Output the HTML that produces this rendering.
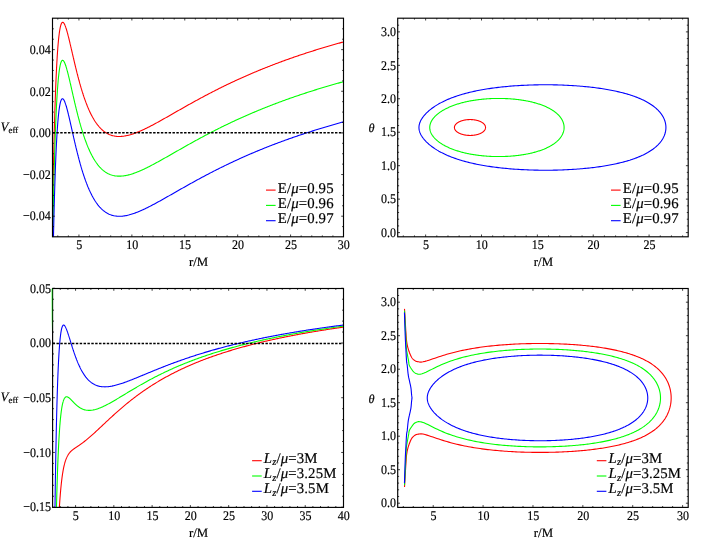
<!DOCTYPE html>
<html><head><meta charset="utf-8"><title>plots</title><style>html,body{margin:0;padding:0;background:#fff}svg{display:block;will-change:transform}text{text-rendering:geometricPrecision;stroke:#000;stroke-width:0.18px}</style></head><body>
<svg width="705" height="541" viewBox="0 0 705 541" font-family='"Liberation Serif", serif' fill="#000">
<rect width="705" height="541" fill="#fff"/>
<defs>
<clipPath id="c1"><rect x="52.50" y="18.20" width="291.00" height="218.60"/></clipPath>
<clipPath id="c3"><rect x="52.60" y="288.50" width="290.90" height="218.90"/></clipPath>
<clipPath id="c2"><rect x="397.70" y="18.20" width="290.50" height="218.60"/></clipPath>
<clipPath id="c4"><rect x="397.70" y="288.50" width="290.50" height="218.90"/></clipPath>
</defs>
<path d="M52.50 218.35 L52.59 212.74 L52.69 207.26 L52.78 201.92 L52.87 196.71 L52.96 191.63 L53.06 186.67 L53.15 181.83 L53.24 177.12 L53.34 172.51 L53.43 168.02 L53.52 163.64 L53.61 159.37 L53.71 155.21 L53.80 151.15 L53.89 147.19 L53.99 143.33 L54.08 139.56 L54.17 135.89 L54.26 132.31 L54.36 128.83 L54.45 125.43 L54.54 122.11 L54.63 118.89 L54.73 115.74 L54.82 112.68 L54.91 109.69 L55.01 106.78 L55.10 103.95 L55.19 101.19 L55.28 98.50 L55.38 95.89 L55.47 93.34 L55.56 90.86 L55.66 88.45 L55.75 86.10 L55.84 83.82 L55.93 81.59 L56.03 79.43 L56.12 77.33 L56.21 75.28 L56.31 73.29 L56.40 71.36 L56.49 69.48 L56.58 67.65 L56.68 65.88 L56.77 64.15 L56.86 62.48 L56.96 60.85 L57.05 59.28 L57.14 57.75 L57.23 56.26 L57.33 54.82 L57.42 53.42 L57.51 52.06 L57.61 50.75 L57.70 49.48 L57.79 48.24 L57.88 47.05 L57.98 45.89 L58.07 44.77 L58.16 43.69 L58.26 42.64 L58.35 41.63 L58.44 40.65 L58.53 39.71 L58.63 38.80 L58.72 37.92 L58.81 37.07 L58.90 36.25 L59.00 35.46 L59.09 34.70 L59.18 33.97 L59.28 33.27 L59.37 32.60 L59.46 31.95 L59.55 31.33 L59.65 30.73 L59.74 30.16 L59.83 29.61 L59.93 29.09 L60.02 28.59 L60.11 28.12 L60.20 27.66 L60.30 27.23 L60.39 26.82 L60.48 26.43 L60.58 26.06 L60.67 25.72 L60.76 25.39 L60.85 25.08 L60.95 24.79 L61.04 24.51 L61.13 24.26 L61.23 24.02 L61.32 23.80 L61.41 23.60 L61.50 23.41 L61.60 23.24 L61.69 23.08 L61.78 22.94 L61.88 22.82 L61.97 22.71 L62.06 22.61 L62.15 22.53 L62.25 22.46 L62.34 22.41 L62.43 22.36 L62.52 22.34 L62.62 22.32 L62.71 22.31 L62.80 22.32 L62.90 22.34 L62.99 22.37 L63.08 22.41 L63.17 22.46 L63.27 22.52 L63.36 22.60 L63.45 22.68 L63.55 22.77 L63.64 22.87 L63.73 22.98 L63.82 23.10 L63.92 23.23 L64.01 23.37 L64.10 23.52 L64.20 23.67 L64.29 23.83 L64.38 24.00 L64.47 24.18 L64.57 24.37 L64.66 24.56 L64.75 24.76 L64.85 24.97 L64.94 25.18 L65.03 25.40 L65.12 25.63 L65.22 25.86 L65.31 26.10 L65.40 26.34 L65.50 26.59 L65.59 26.85 L65.68 27.11 L65.77 27.38 L65.87 27.65 L65.96 27.93 L66.05 28.21 L66.14 28.49 L66.24 28.79 L66.33 29.08 L66.42 29.38 L66.52 29.69 L66.61 29.99 L66.70 30.31 L66.79 30.62 L66.89 30.94 L66.98 31.27 L67.07 31.59 L67.17 31.92 L67.26 32.26 L67.35 32.60 L67.44 32.94 L67.54 33.28 L67.63 33.63 L67.72 33.97 L67.82 34.33 L67.91 34.68 L68.00 35.04 L68.09 35.40 L68.19 35.76 L68.28 36.12 L68.37 36.49 L68.47 36.86 L68.56 37.23 L68.65 37.60 L68.74 37.97 L68.84 38.35 L68.93 38.73 L69.02 39.11 L69.12 39.49 L69.21 39.87 L69.30 40.26 L69.39 40.64 L69.49 41.03 L69.58 41.42 L69.67 41.81 L69.77 42.20 L69.86 42.59 L69.95 42.98 L70.04 43.38 L70.14 43.77 L70.23 44.17 L70.32 44.56 L70.41 44.96 L70.51 45.36 L70.60 45.75 L70.69 46.15 L70.79 46.55 L70.88 46.95 L70.97 47.35 L71.06 47.75 L71.16 48.16 L71.25 48.56 L71.34 48.96 L71.44 49.36 L71.53 49.76 L71.62 50.17 L71.71 50.57 L71.81 50.97 L71.90 51.38 L71.99 51.78 L72.09 52.18 L72.18 52.58 L72.27 52.99 L72.36 53.39 L72.46 53.79 L72.55 54.20 L72.64 54.60 L72.74 55.00 L72.83 55.40 L72.92 55.80 L73.01 56.20 L73.11 56.60 L73.20 57.00 L73.29 57.40 L73.39 57.80 L73.48 58.20 L73.57 58.60 L73.66 59.00 L73.76 59.40 L73.85 59.79 L73.94 60.19 L74.03 60.59 L74.13 60.98 L74.22 61.37 L74.31 61.77 L74.41 62.16 L74.50 62.55 L74.59 62.95 L74.68 63.34 L74.78 63.73 L74.87 64.12 L74.96 64.50 L75.06 64.89 L75.15 65.28 L75.24 65.67 L75.33 66.05 L75.43 66.44 L75.52 66.82 L75.61 67.20 L75.71 67.58 L75.80 67.96 L75.89 68.34 L75.98 68.72 L76.08 69.10 L76.17 69.48 L76.26 69.85 L76.36 70.23 L76.45 70.60 L76.54 70.97 L76.63 71.35 L76.73 71.72 L76.82 72.09 L76.91 72.46 L77.01 72.82 L77.10 73.19 L77.19 73.56 L77.28 73.92 L77.38 74.28 L77.47 74.64 L77.56 75.01 L77.66 75.37 L77.75 75.72 L77.84 76.08 L77.93 76.44 L78.03 76.79 L78.12 77.15 L78.21 77.50 L78.30 77.85 L78.40 78.20 L78.49 78.55 L78.58 78.90 L78.68 79.25 L78.77 79.59 L78.86 79.94 L78.95 80.28 L79.05 80.62 L79.14 80.96 L79.23 81.30 L79.33 81.64 L79.42 81.98 L79.51 82.31 L79.60 82.65 L79.70 82.98 L79.79 83.31 L79.88 83.64 L79.98 83.97 L80.07 84.30 L80.16 84.63 L80.25 84.95 L80.35 85.28 L80.44 85.60 L80.53 85.92 L80.63 86.24 L80.72 86.56 L80.81 86.88 L80.90 87.20 L81.00 87.51 L81.09 87.83 L81.18 88.14 L81.28 88.45 L81.37 88.76 L81.46 89.07 L81.55 89.38 L81.65 89.69 L81.74 89.99 L81.83 90.29 L81.92 90.60 L82.02 90.90 L82.11 91.20 L82.20 91.50 L82.30 91.80 L82.39 92.09 L82.48 92.39 L82.57 92.68 L82.67 92.97 L82.76 93.26 L82.85 93.55 L82.95 93.84 L83.04 94.13 L83.13 94.42 L83.22 94.70 L83.32 94.98 L83.41 95.27 L83.50 95.55 L83.60 95.83 L83.69 96.10 L83.78 96.38 L83.87 96.66 L83.97 96.93 L84.06 97.20 L84.15 97.48 L84.25 97.75 L84.34 98.02 L84.43 98.28 L84.52 98.55 L84.62 98.82 L84.71 99.08 L84.80 99.34 L84.90 99.61 L84.99 99.87 L85.08 100.13 L85.17 100.38 L85.27 100.64 L85.36 100.90 L85.45 101.15 L85.54 101.40 L85.64 101.66 L85.73 101.91 L85.82 102.16 L85.92 102.40 L86.01 102.65 L86.10 102.90 L86.19 103.14 L86.29 103.39 L86.38 103.63 L86.47 103.87 L86.57 104.11 L86.66 104.35 L86.75 104.58 L86.84 104.82 L86.94 105.05 L87.03 105.29 L87.12 105.52 L87.22 105.75 L87.31 105.98 L87.40 106.21 L87.49 106.44 L87.59 106.67 L87.68 106.89 L87.77 107.12 L87.87 107.34 L87.96 107.56 L88.05 107.78 L88.14 108.00 L88.24 108.22 L88.33 108.44 L88.42 108.65 L88.52 108.87 L88.61 109.08 L88.70 109.29 L88.79 109.51 L88.89 109.72 L88.98 109.93 L89.07 110.13 L89.17 110.34 L89.26 110.55 L89.35 110.75 L89.44 110.96 L89.54 111.16 L90.39 112.96 L91.24 114.68 L92.08 116.30 L92.93 117.84 L93.78 119.30 L94.63 120.68 L95.48 121.99 L96.33 123.22 L97.18 124.38 L98.03 125.47 L98.88 126.49 L99.73 127.45 L100.58 128.35 L101.43 129.19 L102.28 129.97 L103.13 130.70 L103.98 131.37 L104.83 132.00 L105.67 132.57 L106.52 133.10 L107.37 133.58 L108.22 134.02 L109.07 134.42 L109.92 134.77 L110.77 135.09 L111.62 135.37 L112.47 135.62 L113.32 135.83 L114.17 136.01 L115.02 136.16 L115.87 136.28 L116.72 136.37 L117.57 136.43 L118.42 136.46 L119.26 136.47 L120.11 136.46 L120.96 136.42 L121.81 136.36 L122.66 136.28 L123.51 136.18 L124.36 136.06 L125.21 135.91 L126.06 135.76 L126.91 135.58 L127.76 135.39 L128.61 135.18 L129.46 134.96 L130.31 134.72 L131.16 134.47 L132.01 134.20 L132.85 133.92 L133.70 133.64 L134.55 133.33 L135.40 133.02 L136.25 132.70 L137.10 132.37 L137.95 132.03 L138.80 131.68 L139.65 131.32 L140.50 130.95 L141.35 130.57 L142.20 130.19 L143.05 129.80 L143.90 129.40 L144.75 129.00 L145.60 128.59 L146.44 128.18 L147.29 127.76 L148.14 127.33 L148.99 126.90 L149.84 126.47 L150.69 126.03 L151.54 125.59 L152.39 125.14 L153.24 124.69 L154.09 124.24 L154.94 123.78 L155.79 123.32 L156.64 122.86 L157.49 122.39 L158.34 121.92 L159.19 121.45 L160.03 120.98 L160.88 120.51 L161.73 120.03 L162.58 119.56 L163.43 119.08 L164.28 118.60 L165.13 118.12 L165.98 117.64 L166.83 117.16 L167.68 116.67 L168.53 116.19 L169.38 115.70 L170.23 115.22 L171.08 114.73 L171.93 114.25 L172.78 113.76 L173.62 113.28 L174.47 112.79 L175.32 112.31 L176.17 111.82 L177.02 111.34 L177.87 110.85 L178.72 110.37 L179.57 109.88 L180.42 109.40 L181.27 108.92 L182.12 108.43 L182.97 107.95 L183.82 107.47 L184.67 106.99 L185.52 106.51 L186.37 106.03 L187.21 105.56 L188.06 105.08 L188.91 104.60 L189.76 104.13 L190.61 103.65 L191.46 103.18 L192.31 102.71 L193.16 102.24 L194.01 101.77 L194.86 101.30 L195.71 100.84 L196.56 100.37 L197.41 99.91 L198.26 99.45 L199.11 98.99 L199.96 98.53 L200.80 98.07 L201.65 97.61 L202.50 97.16 L203.35 96.70 L204.20 96.25 L205.05 95.80 L205.90 95.35 L206.75 94.90 L207.60 94.45 L208.45 94.01 L209.30 93.56 L210.15 93.12 L211.00 92.68 L211.85 92.24 L212.70 91.81 L213.55 91.37 L214.39 90.94 L215.24 90.50 L216.09 90.07 L216.94 89.64 L217.79 89.22 L218.64 88.79 L219.49 88.36 L220.34 87.94 L221.19 87.52 L222.04 87.10 L222.89 86.68 L223.74 86.27 L224.59 85.85 L225.44 85.44 L226.29 85.03 L227.14 84.62 L227.98 84.21 L228.83 83.80 L229.68 83.40 L230.53 82.99 L231.38 82.59 L232.23 82.19 L233.08 81.79 L233.93 81.40 L234.78 81.00 L235.63 80.61 L236.48 80.22 L237.33 79.83 L238.18 79.44 L239.03 79.05 L239.88 78.67 L240.73 78.28 L241.57 77.90 L242.42 77.52 L243.27 77.14 L244.12 76.76 L244.97 76.39 L245.82 76.01 L246.67 75.64 L247.52 75.27 L248.37 74.90 L249.22 74.53 L250.07 74.16 L250.92 73.80 L251.77 73.43 L252.62 73.07 L253.47 72.71 L254.32 72.35 L255.16 72.00 L256.01 71.64 L256.86 71.28 L257.71 70.93 L258.56 70.58 L259.41 70.23 L260.26 69.88 L261.11 69.54 L261.96 69.19 L262.81 68.85 L263.66 68.50 L264.51 68.16 L265.36 67.82 L266.21 67.48 L267.06 67.15 L267.91 66.81 L268.75 66.48 L269.60 66.15 L270.45 65.81 L271.30 65.48 L272.15 65.16 L273.00 64.83 L273.85 64.50 L274.70 64.18 L275.55 63.86 L276.40 63.54 L277.25 63.22 L278.10 62.90 L278.95 62.58 L279.80 62.26 L280.65 61.95 L281.50 61.63 L282.34 61.32 L283.19 61.01 L284.04 60.70 L284.89 60.39 L285.74 60.09 L286.59 59.78 L287.44 59.48 L288.29 59.17 L289.14 58.87 L289.99 58.57 L290.84 58.27 L291.69 57.98 L292.54 57.68 L293.39 57.38 L294.24 57.09 L295.09 56.80 L295.93 56.50 L296.78 56.21 L297.63 55.92 L298.48 55.64 L299.33 55.35 L300.18 55.06 L301.03 54.78 L301.88 54.50 L302.73 54.21 L303.58 53.93 L304.43 53.65 L305.28 53.37 L306.13 53.10 L306.98 52.82 L307.83 52.54 L308.68 52.27 L309.52 52.00 L310.37 51.72 L311.22 51.45 L312.07 51.18 L312.92 50.91 L313.77 50.65 L314.62 50.38 L315.47 50.12 L316.32 49.85 L317.17 49.59 L318.02 49.33 L318.87 49.06 L319.72 48.80 L320.57 48.55 L321.42 48.29 L322.27 48.03 L323.11 47.77 L323.96 47.52 L324.81 47.27 L325.66 47.01 L326.51 46.76 L327.36 46.51 L328.21 46.26 L329.06 46.01 L329.91 45.76 L330.76 45.52 L331.61 45.27 L332.46 45.03 L333.31 44.78 L334.16 44.54 L335.01 44.30 L335.86 44.06 L336.70 43.82 L337.55 43.58 L338.40 43.34 L339.25 43.10 L340.10 42.86 L340.95 42.63 L341.80 42.40 L342.65 42.16 L343.50 41.93" fill="none" stroke="#ff0000" stroke-width="1.10" stroke-linejoin="round" stroke-linecap="butt" clip-path="url(#c1)" />
<path d="M52.50 253.21 L52.59 247.65 L52.69 242.23 L52.78 236.95 L52.87 231.79 L52.96 226.75 L53.06 221.85 L53.15 217.06 L53.24 212.39 L53.34 207.83 L53.43 203.39 L53.52 199.06 L53.61 194.83 L53.71 190.71 L53.80 186.70 L53.89 182.78 L53.99 178.96 L54.08 175.24 L54.17 171.61 L54.26 168.08 L54.36 164.63 L54.45 161.27 L54.54 158.00 L54.63 154.81 L54.73 151.71 L54.82 148.68 L54.91 145.73 L55.01 142.86 L55.10 140.07 L55.19 137.34 L55.28 134.69 L55.38 132.11 L55.47 129.60 L55.56 127.16 L55.66 124.78 L55.75 122.46 L55.84 120.21 L55.93 118.02 L56.03 115.89 L56.12 113.82 L56.21 111.81 L56.31 109.85 L56.40 107.95 L56.49 106.10 L56.58 104.30 L56.68 102.56 L56.77 100.86 L56.86 99.22 L56.96 97.62 L57.05 96.07 L57.14 94.57 L57.23 93.11 L57.33 91.69 L57.42 90.32 L57.51 88.99 L57.61 87.71 L57.70 86.46 L57.79 85.25 L57.88 84.08 L57.98 82.95 L58.07 81.86 L58.16 80.80 L58.26 79.78 L58.35 78.79 L58.44 77.83 L58.53 76.91 L58.63 76.02 L58.72 75.17 L58.81 74.34 L58.90 73.55 L59.00 72.78 L59.09 72.04 L59.18 71.33 L59.28 70.65 L59.37 70.00 L59.46 69.37 L59.55 68.77 L59.65 68.20 L59.74 67.64 L59.83 67.12 L59.93 66.62 L60.02 66.14 L60.11 65.68 L60.20 65.24 L60.30 64.83 L60.39 64.44 L60.48 64.07 L60.58 63.72 L60.67 63.39 L60.76 63.08 L60.85 62.79 L60.95 62.51 L61.04 62.26 L61.13 62.02 L61.23 61.80 L61.32 61.59 L61.41 61.41 L61.50 61.24 L61.60 61.08 L61.69 60.94 L61.78 60.82 L61.88 60.71 L61.97 60.61 L62.06 60.53 L62.15 60.47 L62.25 60.41 L62.34 60.37 L62.43 60.35 L62.52 60.33 L62.62 60.33 L62.71 60.34 L62.80 60.36 L62.90 60.39 L62.99 60.43 L63.08 60.49 L63.17 60.55 L63.27 60.63 L63.36 60.71 L63.45 60.81 L63.55 60.91 L63.64 61.03 L63.73 61.15 L63.82 61.29 L63.92 61.43 L64.01 61.58 L64.10 61.74 L64.20 61.90 L64.29 62.08 L64.38 62.26 L64.47 62.45 L64.57 62.65 L64.66 62.85 L64.75 63.06 L64.85 63.28 L64.94 63.50 L65.03 63.74 L65.12 63.97 L65.22 64.22 L65.31 64.47 L65.40 64.72 L65.50 64.98 L65.59 65.25 L65.68 65.52 L65.77 65.80 L65.87 66.08 L65.96 66.37 L66.05 66.66 L66.14 66.95 L66.24 67.25 L66.33 67.56 L66.42 67.87 L66.52 68.18 L66.61 68.50 L66.70 68.82 L66.79 69.15 L66.89 69.48 L66.98 69.81 L67.07 70.15 L67.17 70.49 L67.26 70.83 L67.35 71.17 L67.44 71.52 L67.54 71.87 L67.63 72.23 L67.72 72.59 L67.82 72.95 L67.91 73.31 L68.00 73.67 L68.09 74.04 L68.19 74.41 L68.28 74.78 L68.37 75.16 L68.47 75.53 L68.56 75.91 L68.65 76.29 L68.74 76.67 L68.84 77.06 L68.93 77.44 L69.02 77.83 L69.12 78.22 L69.21 78.61 L69.30 79.00 L69.39 79.39 L69.49 79.79 L69.58 80.18 L69.67 80.58 L69.77 80.98 L69.86 81.37 L69.95 81.77 L70.04 82.17 L70.14 82.57 L70.23 82.98 L70.32 83.38 L70.41 83.78 L70.51 84.19 L70.60 84.59 L70.69 85.00 L70.79 85.40 L70.88 85.81 L70.97 86.22 L71.06 86.62 L71.16 87.03 L71.25 87.44 L71.34 87.85 L71.44 88.25 L71.53 88.66 L71.62 89.07 L71.71 89.48 L71.81 89.89 L71.90 90.30 L71.99 90.70 L72.09 91.11 L72.18 91.52 L72.27 91.93 L72.36 92.34 L72.46 92.75 L72.55 93.15 L72.64 93.56 L72.74 93.97 L72.83 94.37 L72.92 94.78 L73.01 95.19 L73.11 95.59 L73.20 96.00 L73.29 96.40 L73.39 96.81 L73.48 97.21 L73.57 97.61 L73.66 98.02 L73.76 98.42 L73.85 98.82 L73.94 99.22 L74.03 99.62 L74.13 100.02 L74.22 100.42 L74.31 100.82 L74.41 101.22 L74.50 101.61 L74.59 102.01 L74.68 102.41 L74.78 102.80 L74.87 103.19 L74.96 103.59 L75.06 103.98 L75.15 104.37 L75.24 104.76 L75.33 105.15 L75.43 105.54 L75.52 105.93 L75.61 106.31 L75.71 106.70 L75.80 107.08 L75.89 107.47 L75.98 107.85 L76.08 108.23 L76.17 108.61 L76.26 108.99 L76.36 109.37 L76.45 109.75 L76.54 110.12 L76.63 110.50 L76.73 110.87 L76.82 111.25 L76.91 111.62 L77.01 111.99 L77.10 112.36 L77.19 112.73 L77.28 113.10 L77.38 113.46 L77.47 113.83 L77.56 114.19 L77.66 114.56 L77.75 114.92 L77.84 115.28 L77.93 115.64 L78.03 116.00 L78.12 116.36 L78.21 116.71 L78.30 117.07 L78.40 117.42 L78.49 117.77 L78.58 118.12 L78.68 118.47 L78.77 118.82 L78.86 119.17 L78.95 119.52 L79.05 119.86 L79.14 120.21 L79.23 120.55 L79.33 120.89 L79.42 121.23 L79.51 121.57 L79.60 121.91 L79.70 122.24 L79.79 122.58 L79.88 122.91 L79.98 123.24 L80.07 123.57 L80.16 123.90 L80.25 124.23 L80.35 124.56 L80.44 124.89 L80.53 125.21 L80.63 125.53 L80.72 125.86 L80.81 126.18 L80.90 126.50 L81.00 126.81 L81.09 127.13 L81.18 127.45 L81.28 127.76 L81.37 128.07 L81.46 128.38 L81.55 128.70 L81.65 129.00 L81.74 129.31 L81.83 129.62 L81.92 129.92 L82.02 130.23 L82.11 130.53 L82.20 130.83 L82.30 131.13 L82.39 131.43 L82.48 131.73 L82.57 132.02 L82.67 132.32 L82.76 132.61 L82.85 132.90 L82.95 133.19 L83.04 133.48 L83.13 133.77 L83.22 134.06 L83.32 134.34 L83.41 134.63 L83.50 134.91 L83.60 135.19 L83.69 135.47 L83.78 135.75 L83.87 136.03 L83.97 136.31 L84.06 136.58 L84.15 136.86 L84.25 137.13 L84.34 137.40 L84.43 137.67 L84.52 137.94 L84.62 138.21 L84.71 138.47 L84.80 138.74 L84.90 139.00 L84.99 139.26 L85.08 139.53 L85.17 139.79 L85.27 140.04 L85.36 140.30 L85.45 140.56 L85.54 140.81 L85.64 141.07 L85.73 141.32 L85.82 141.57 L85.92 141.82 L86.01 142.07 L86.10 142.32 L86.19 142.56 L86.29 142.81 L86.38 143.05 L86.47 143.30 L86.57 143.54 L86.66 143.78 L86.75 144.02 L86.84 144.25 L86.94 144.49 L87.03 144.73 L87.12 144.96 L87.22 145.19 L87.31 145.43 L87.40 145.66 L87.49 145.89 L87.59 146.11 L87.68 146.34 L87.77 146.57 L87.87 146.79 L87.96 147.01 L88.05 147.24 L88.14 147.46 L88.24 147.68 L88.33 147.90 L88.42 148.11 L88.52 148.33 L88.61 148.55 L88.70 148.76 L88.79 148.97 L88.89 149.19 L88.98 149.40 L89.07 149.61 L89.17 149.82 L89.26 150.02 L89.35 150.23 L89.44 150.43 L89.54 150.64 L90.39 152.45 L91.24 154.18 L92.08 155.82 L92.93 157.37 L93.78 158.84 L94.63 160.23 L95.48 161.54 L96.33 162.78 L97.18 163.95 L98.03 165.05 L98.88 166.08 L99.73 167.05 L100.58 167.95 L101.43 168.80 L102.28 169.59 L103.13 170.32 L103.98 171.00 L104.83 171.63 L105.67 172.21 L106.52 172.74 L107.37 173.22 L108.22 173.67 L109.07 174.07 L109.92 174.43 L110.77 174.75 L111.62 175.04 L112.47 175.29 L113.32 175.50 L114.17 175.69 L115.02 175.84 L115.87 175.96 L116.72 176.05 L117.57 176.12 L118.42 176.15 L119.26 176.17 L120.11 176.15 L120.96 176.12 L121.81 176.06 L122.66 175.98 L123.51 175.88 L124.36 175.76 L125.21 175.62 L126.06 175.47 L126.91 175.29 L127.76 175.10 L128.61 174.89 L129.46 174.67 L130.31 174.44 L131.16 174.19 L132.01 173.92 L132.85 173.65 L133.70 173.36 L134.55 173.06 L135.40 172.75 L136.25 172.43 L137.10 172.10 L137.95 171.76 L138.80 171.41 L139.65 171.05 L140.50 170.68 L141.35 170.31 L142.20 169.92 L143.05 169.54 L143.90 169.14 L144.75 168.74 L145.60 168.33 L146.44 167.92 L147.29 167.50 L148.14 167.07 L148.99 166.64 L149.84 166.21 L150.69 165.77 L151.54 165.33 L152.39 164.88 L153.24 164.43 L154.09 163.98 L154.94 163.52 L155.79 163.06 L156.64 162.60 L157.49 162.14 L158.34 161.67 L159.19 161.20 L160.03 160.73 L160.88 160.26 L161.73 159.78 L162.58 159.31 L163.43 158.83 L164.28 158.35 L165.13 157.87 L165.98 157.39 L166.83 156.91 L167.68 156.42 L168.53 155.94 L169.38 155.46 L170.23 154.97 L171.08 154.49 L171.93 154.00 L172.78 153.52 L173.62 153.03 L174.47 152.55 L175.32 152.06 L176.17 151.58 L177.02 151.09 L177.87 150.61 L178.72 150.12 L179.57 149.64 L180.42 149.16 L181.27 148.67 L182.12 148.19 L182.97 147.71 L183.82 147.23 L184.67 146.75 L185.52 146.27 L186.37 145.79 L187.21 145.31 L188.06 144.84 L188.91 144.36 L189.76 143.89 L190.61 143.41 L191.46 142.94 L192.31 142.47 L193.16 142.00 L194.01 141.53 L194.86 141.06 L195.71 140.60 L196.56 140.13 L197.41 139.67 L198.26 139.21 L199.11 138.75 L199.96 138.29 L200.80 137.83 L201.65 137.37 L202.50 136.92 L203.35 136.46 L204.20 136.01 L205.05 135.56 L205.90 135.11 L206.75 134.66 L207.60 134.21 L208.45 133.77 L209.30 133.33 L210.15 132.88 L211.00 132.44 L211.85 132.01 L212.70 131.57 L213.55 131.13 L214.39 130.70 L215.24 130.27 L216.09 129.84 L216.94 129.41 L217.79 128.98 L218.64 128.55 L219.49 128.13 L220.34 127.71 L221.19 127.28 L222.04 126.86 L222.89 126.45 L223.74 126.03 L224.59 125.62 L225.44 125.20 L226.29 124.79 L227.14 124.38 L227.98 123.97 L228.83 123.57 L229.68 123.16 L230.53 122.76 L231.38 122.36 L232.23 121.96 L233.08 121.56 L233.93 121.16 L234.78 120.77 L235.63 120.37 L236.48 119.98 L237.33 119.59 L238.18 119.20 L239.03 118.82 L239.88 118.43 L240.73 118.05 L241.57 117.66 L242.42 117.28 L243.27 116.90 L244.12 116.53 L244.97 116.15 L245.82 115.78 L246.67 115.40 L247.52 115.03 L248.37 114.66 L249.22 114.29 L250.07 113.93 L250.92 113.56 L251.77 113.20 L252.62 112.84 L253.47 112.48 L254.32 112.12 L255.16 111.76 L256.01 111.40 L256.86 111.05 L257.71 110.70 L258.56 110.35 L259.41 110.00 L260.26 109.65 L261.11 109.30 L261.96 108.95 L262.81 108.61 L263.66 108.27 L264.51 107.93 L265.36 107.59 L266.21 107.25 L267.06 106.91 L267.91 106.58 L268.75 106.24 L269.60 105.91 L270.45 105.58 L271.30 105.25 L272.15 104.92 L273.00 104.59 L273.85 104.27 L274.70 103.94 L275.55 103.62 L276.40 103.30 L277.25 102.98 L278.10 102.66 L278.95 102.34 L279.80 102.03 L280.65 101.71 L281.50 101.40 L282.34 101.09 L283.19 100.78 L284.04 100.47 L284.89 100.16 L285.74 99.85 L286.59 99.55 L287.44 99.24 L288.29 98.94 L289.14 98.64 L289.99 98.34 L290.84 98.04 L291.69 97.74 L292.54 97.44 L293.39 97.15 L294.24 96.85 L295.09 96.56 L295.93 96.27 L296.78 95.98 L297.63 95.69 L298.48 95.40 L299.33 95.11 L300.18 94.83 L301.03 94.54 L301.88 94.26 L302.73 93.98 L303.58 93.70 L304.43 93.42 L305.28 93.14 L306.13 92.86 L306.98 92.58 L307.83 92.31 L308.68 92.04 L309.52 91.76 L310.37 91.49 L311.22 91.22 L312.07 90.95 L312.92 90.68 L313.77 90.41 L314.62 90.15 L315.47 89.88 L316.32 89.62 L317.17 89.35 L318.02 89.09 L318.87 88.83 L319.72 88.57 L320.57 88.31 L321.42 88.05 L322.27 87.80 L323.11 87.54 L323.96 87.29 L324.81 87.03 L325.66 86.78 L326.51 86.53 L327.36 86.28 L328.21 86.03 L329.06 85.78 L329.91 85.53 L330.76 85.28 L331.61 85.04 L332.46 84.79 L333.31 84.55 L334.16 84.31 L335.01 84.06 L335.86 83.82 L336.70 83.58 L337.55 83.34 L338.40 83.10 L339.25 82.87 L340.10 82.63 L340.95 82.40 L341.80 82.16 L342.65 81.93 L343.50 81.69" fill="none" stroke="#00ff00" stroke-width="1.10" stroke-linejoin="round" stroke-linecap="butt" clip-path="url(#c1)" />
<path d="M52.50 288.50 L52.59 283.00 L52.69 277.63 L52.78 272.40 L52.87 267.29 L52.96 262.31 L53.06 257.45 L53.15 252.71 L53.24 248.09 L53.34 243.58 L53.43 239.19 L53.52 234.90 L53.61 230.72 L53.71 226.65 L53.80 222.67 L53.89 218.80 L53.99 215.03 L54.08 211.35 L54.17 207.76 L54.26 204.27 L54.36 200.86 L54.45 197.55 L54.54 194.31 L54.63 191.16 L54.73 188.10 L54.82 185.11 L54.91 182.20 L55.01 179.37 L55.10 176.61 L55.19 173.92 L55.28 171.31 L55.38 168.76 L55.47 166.29 L55.56 163.88 L55.66 161.53 L55.75 159.25 L55.84 157.03 L55.93 154.88 L56.03 152.78 L56.12 150.74 L56.21 148.76 L56.31 146.83 L56.40 144.96 L56.49 143.14 L56.58 141.37 L56.68 139.66 L56.77 137.99 L56.86 136.38 L56.96 134.81 L57.05 133.29 L57.14 131.81 L57.23 130.38 L57.33 128.99 L57.42 127.65 L57.51 126.35 L57.61 125.09 L57.70 123.87 L57.79 122.68 L57.88 121.54 L57.98 120.43 L58.07 119.36 L58.16 118.33 L58.26 117.33 L58.35 116.37 L58.44 115.44 L58.53 114.54 L58.63 113.67 L58.72 112.84 L58.81 112.04 L58.90 111.26 L59.00 110.52 L59.09 109.80 L59.18 109.12 L59.28 108.46 L59.37 107.83 L59.46 107.22 L59.55 106.64 L59.65 106.08 L59.74 105.55 L59.83 105.05 L59.93 104.56 L60.02 104.10 L60.11 103.66 L60.20 103.25 L60.30 102.86 L60.39 102.48 L60.48 102.13 L60.58 101.80 L60.67 101.49 L60.76 101.19 L60.85 100.92 L60.95 100.66 L61.04 100.42 L61.13 100.20 L61.23 100.00 L61.32 99.81 L61.41 99.64 L61.50 99.49 L61.60 99.35 L61.69 99.22 L61.78 99.12 L61.88 99.02 L61.97 98.94 L62.06 98.88 L62.15 98.83 L62.25 98.79 L62.34 98.76 L62.43 98.75 L62.52 98.75 L62.62 98.76 L62.71 98.78 L62.80 98.82 L62.90 98.86 L62.99 98.92 L63.08 98.99 L63.17 99.07 L63.27 99.16 L63.36 99.26 L63.45 99.36 L63.55 99.48 L63.64 99.61 L63.73 99.75 L63.82 99.89 L63.92 100.04 L64.01 100.21 L64.10 100.38 L64.20 100.56 L64.29 100.74 L64.38 100.94 L64.47 101.14 L64.57 101.35 L64.66 101.56 L64.75 101.78 L64.85 102.01 L64.94 102.25 L65.03 102.49 L65.12 102.74 L65.22 102.99 L65.31 103.25 L65.40 103.52 L65.50 103.79 L65.59 104.07 L65.68 104.35 L65.77 104.64 L65.87 104.93 L65.96 105.23 L66.05 105.53 L66.14 105.83 L66.24 106.15 L66.33 106.46 L66.42 106.78 L66.52 107.10 L66.61 107.43 L66.70 107.76 L66.79 108.09 L66.89 108.43 L66.98 108.77 L67.07 109.12 L67.17 109.47 L67.26 109.82 L67.35 110.17 L67.44 110.53 L67.54 110.89 L67.63 111.25 L67.72 111.62 L67.82 111.99 L67.91 112.36 L68.00 112.73 L68.09 113.11 L68.19 113.49 L68.28 113.87 L68.37 114.25 L68.47 114.63 L68.56 115.02 L68.65 115.41 L68.74 115.79 L68.84 116.19 L68.93 116.58 L69.02 116.97 L69.12 117.37 L69.21 117.77 L69.30 118.16 L69.39 118.56 L69.49 118.96 L69.58 119.37 L69.67 119.77 L69.77 120.17 L69.86 120.58 L69.95 120.99 L70.04 121.39 L70.14 121.80 L70.23 122.21 L70.32 122.62 L70.41 123.03 L70.51 123.44 L70.60 123.85 L70.69 124.26 L70.79 124.67 L70.88 125.09 L70.97 125.50 L71.06 125.91 L71.16 126.32 L71.25 126.74 L71.34 127.15 L71.44 127.57 L71.53 127.98 L71.62 128.39 L71.71 128.81 L71.81 129.22 L71.90 129.64 L71.99 130.05 L72.09 130.46 L72.18 130.88 L72.27 131.29 L72.36 131.71 L72.46 132.12 L72.55 132.53 L72.64 132.94 L72.74 133.36 L72.83 133.77 L72.92 134.18 L73.01 134.59 L73.11 135.00 L73.20 135.41 L73.29 135.82 L73.39 136.23 L73.48 136.64 L73.57 137.05 L73.66 137.46 L73.76 137.86 L73.85 138.27 L73.94 138.67 L74.03 139.08 L74.13 139.48 L74.22 139.89 L74.31 140.29 L74.41 140.69 L74.50 141.09 L74.59 141.49 L74.68 141.89 L74.78 142.29 L74.87 142.69 L74.96 143.09 L75.06 143.48 L75.15 143.88 L75.24 144.27 L75.33 144.67 L75.43 145.06 L75.52 145.45 L75.61 145.84 L75.71 146.23 L75.80 146.62 L75.89 147.01 L75.98 147.40 L76.08 147.78 L76.17 148.17 L76.26 148.55 L76.36 148.93 L76.45 149.31 L76.54 149.69 L76.63 150.07 L76.73 150.45 L76.82 150.83 L76.91 151.20 L77.01 151.58 L77.10 151.95 L77.19 152.32 L77.28 152.70 L77.38 153.07 L77.47 153.44 L77.56 153.80 L77.66 154.17 L77.75 154.54 L77.84 154.90 L77.93 155.26 L78.03 155.62 L78.12 155.98 L78.21 156.34 L78.30 156.70 L78.40 157.06 L78.49 157.41 L78.58 157.77 L78.68 158.12 L78.77 158.47 L78.86 158.82 L78.95 159.17 L79.05 159.52 L79.14 159.87 L79.23 160.21 L79.33 160.56 L79.42 160.90 L79.51 161.24 L79.60 161.58 L79.70 161.92 L79.79 162.26 L79.88 162.60 L79.98 162.93 L80.07 163.27 L80.16 163.60 L80.25 163.93 L80.35 164.26 L80.44 164.59 L80.53 164.92 L80.63 165.24 L80.72 165.57 L80.81 165.89 L80.90 166.21 L81.00 166.53 L81.09 166.85 L81.18 167.17 L81.28 167.49 L81.37 167.80 L81.46 168.12 L81.55 168.43 L81.65 168.74 L81.74 169.05 L81.83 169.36 L81.92 169.67 L82.02 169.97 L82.11 170.28 L82.20 170.58 L82.30 170.88 L82.39 171.19 L82.48 171.49 L82.57 171.78 L82.67 172.08 L82.76 172.38 L82.85 172.67 L82.95 172.96 L83.04 173.26 L83.13 173.55 L83.22 173.83 L83.32 174.12 L83.41 174.41 L83.50 174.69 L83.60 174.98 L83.69 175.26 L83.78 175.54 L83.87 175.82 L83.97 176.10 L84.06 176.38 L84.15 176.65 L84.25 176.93 L84.34 177.20 L84.43 177.47 L84.52 177.75 L84.62 178.02 L84.71 178.28 L84.80 178.55 L84.90 178.82 L84.99 179.08 L85.08 179.34 L85.17 179.61 L85.27 179.87 L85.36 180.13 L85.45 180.38 L85.54 180.64 L85.64 180.90 L85.73 181.15 L85.82 181.40 L85.92 181.66 L86.01 181.91 L86.10 182.16 L86.19 182.40 L86.29 182.65 L86.38 182.90 L86.47 183.14 L86.57 183.38 L86.66 183.63 L86.75 183.87 L86.84 184.11 L86.94 184.35 L87.03 184.58 L87.12 184.82 L87.22 185.05 L87.31 185.29 L87.40 185.52 L87.49 185.75 L87.59 185.98 L87.68 186.21 L87.77 186.44 L87.87 186.66 L87.96 186.89 L88.05 187.11 L88.14 187.33 L88.24 187.56 L88.33 187.78 L88.42 188.00 L88.52 188.21 L88.61 188.43 L88.70 188.65 L88.79 188.86 L88.89 189.07 L88.98 189.29 L89.07 189.50 L89.17 189.71 L89.26 189.92 L89.35 190.12 L89.44 190.33 L89.54 190.54 L90.39 192.36 L91.24 194.10 L92.08 195.75 L92.93 197.31 L93.78 198.79 L94.63 200.20 L95.48 201.52 L96.33 202.77 L97.18 203.94 L98.03 205.05 L98.88 206.09 L99.73 207.06 L100.58 207.97 L101.43 208.82 L102.28 209.62 L103.13 210.36 L103.98 211.04 L104.83 211.67 L105.67 212.26 L106.52 212.80 L107.37 213.29 L108.22 213.73 L109.07 214.14 L109.92 214.50 L110.77 214.83 L111.62 215.12 L112.47 215.37 L113.32 215.59 L114.17 215.78 L115.02 215.93 L115.87 216.06 L116.72 216.15 L117.57 216.22 L118.42 216.26 L119.26 216.27 L120.11 216.27 L120.96 216.23 L121.81 216.18 L122.66 216.10 L123.51 216.00 L124.36 215.88 L125.21 215.75 L126.06 215.59 L126.91 215.42 L127.76 215.23 L128.61 215.03 L129.46 214.80 L130.31 214.57 L131.16 214.32 L132.01 214.06 L132.85 213.79 L133.70 213.50 L134.55 213.20 L135.40 212.89 L136.25 212.57 L137.10 212.24 L137.95 211.90 L138.80 211.55 L139.65 211.20 L140.50 210.83 L141.35 210.46 L142.20 210.08 L143.05 209.69 L143.90 209.29 L144.75 208.89 L145.60 208.48 L146.44 208.07 L147.29 207.65 L148.14 207.23 L148.99 206.80 L149.84 206.37 L150.69 205.93 L151.54 205.49 L152.39 205.04 L153.24 204.59 L154.09 204.14 L154.94 203.69 L155.79 203.23 L156.64 202.77 L157.49 202.30 L158.34 201.84 L159.19 201.37 L160.03 200.90 L160.88 200.42 L161.73 199.95 L162.58 199.47 L163.43 199.00 L164.28 198.52 L165.13 198.04 L165.98 197.56 L166.83 197.08 L167.68 196.59 L168.53 196.11 L169.38 195.63 L170.23 195.14 L171.08 194.66 L171.93 194.17 L172.78 193.69 L173.62 193.20 L174.47 192.72 L175.32 192.23 L176.17 191.75 L177.02 191.26 L177.87 190.78 L178.72 190.30 L179.57 189.81 L180.42 189.33 L181.27 188.85 L182.12 188.36 L182.97 187.88 L183.82 187.40 L184.67 186.92 L185.52 186.44 L186.37 185.97 L187.21 185.49 L188.06 185.01 L188.91 184.54 L189.76 184.06 L190.61 183.59 L191.46 183.12 L192.31 182.65 L193.16 182.18 L194.01 181.71 L194.86 181.24 L195.71 180.77 L196.56 180.31 L197.41 179.85 L198.26 179.38 L199.11 178.92 L199.96 178.46 L200.80 178.01 L201.65 177.55 L202.50 177.09 L203.35 176.64 L204.20 176.19 L205.05 175.74 L205.90 175.29 L206.75 174.84 L207.60 174.39 L208.45 173.95 L209.30 173.50 L210.15 173.06 L211.00 172.62 L211.85 172.18 L212.70 171.75 L213.55 171.31 L214.39 170.88 L215.24 170.45 L216.09 170.01 L216.94 169.59 L217.79 169.16 L218.64 168.73 L219.49 168.31 L220.34 167.88 L221.19 167.46 L222.04 167.04 L222.89 166.63 L223.74 166.21 L224.59 165.80 L225.44 165.38 L226.29 164.97 L227.14 164.56 L227.98 164.15 L228.83 163.75 L229.68 163.34 L230.53 162.94 L231.38 162.54 L232.23 162.14 L233.08 161.74 L233.93 161.34 L234.78 160.95 L235.63 160.55 L236.48 160.16 L237.33 159.77 L238.18 159.38 L239.03 159.00 L239.88 158.61 L240.73 158.23 L241.57 157.84 L242.42 157.46 L243.27 157.08 L244.12 156.71 L244.97 156.33 L245.82 155.96 L246.67 155.58 L247.52 155.21 L248.37 154.84 L249.22 154.48 L250.07 154.11 L250.92 153.74 L251.77 153.38 L252.62 153.02 L253.47 152.66 L254.32 152.30 L255.16 151.94 L256.01 151.59 L256.86 151.23 L257.71 150.88 L258.56 150.53 L259.41 150.18 L260.26 149.83 L261.11 149.48 L261.96 149.14 L262.81 148.79 L263.66 148.45 L264.51 148.11 L265.36 147.77 L266.21 147.43 L267.06 147.09 L267.91 146.76 L268.75 146.42 L269.60 146.09 L270.45 145.76 L271.30 145.43 L272.15 145.10 L273.00 144.78 L273.85 144.45 L274.70 144.13 L275.55 143.80 L276.40 143.48 L277.25 143.16 L278.10 142.84 L278.95 142.53 L279.80 142.21 L280.65 141.90 L281.50 141.58 L282.34 141.27 L283.19 140.96 L284.04 140.65 L284.89 140.34 L285.74 140.04 L286.59 139.73 L287.44 139.43 L288.29 139.12 L289.14 138.82 L289.99 138.52 L290.84 138.22 L291.69 137.92 L292.54 137.63 L293.39 137.33 L294.24 137.04 L295.09 136.74 L295.93 136.45 L296.78 136.16 L297.63 135.87 L298.48 135.58 L299.33 135.30 L300.18 135.01 L301.03 134.73 L301.88 134.44 L302.73 134.16 L303.58 133.88 L304.43 133.60 L305.28 133.32 L306.13 133.04 L306.98 132.77 L307.83 132.49 L308.68 132.22 L309.52 131.94 L310.37 131.67 L311.22 131.40 L312.07 131.13 L312.92 130.86 L313.77 130.60 L314.62 130.33 L315.47 130.06 L316.32 129.80 L317.17 129.54 L318.02 129.27 L318.87 129.01 L319.72 128.75 L320.57 128.49 L321.42 128.24 L322.27 127.98 L323.11 127.72 L323.96 127.47 L324.81 127.21 L325.66 126.96 L326.51 126.71 L327.36 126.46 L328.21 126.21 L329.06 125.96 L329.91 125.71 L330.76 125.47 L331.61 125.22 L332.46 124.97 L333.31 124.73 L334.16 124.49 L335.01 124.25 L335.86 124.00 L336.70 123.76 L337.55 123.53 L338.40 123.29 L339.25 123.05 L340.10 122.81 L340.95 122.58 L341.80 122.34 L342.65 122.11 L343.50 121.88" fill="none" stroke="#0000ff" stroke-width="1.10" stroke-linejoin="round" stroke-linecap="butt" clip-path="url(#c1)" />
<line x1="52.50" y1="132.75" x2="343.50" y2="132.75" stroke="#000" stroke-width="1.3" stroke-dasharray="2.45 1.42"/>
<path d="M52.60 562.12 L52.68 562.12 L52.75 562.12 L52.83 562.12 L52.91 562.12 L52.98 562.12 L53.06 562.12 L53.14 562.12 L53.21 562.12 L53.29 562.12 L53.37 562.12 L53.44 562.12 L53.52 562.12 L53.60 562.12 L53.67 562.12 L53.75 562.12 L53.83 562.12 L53.90 562.12 L53.98 562.12 L54.06 562.12 L54.13 562.12 L54.21 562.12 L54.29 562.12 L54.37 562.12 L54.44 562.12 L54.52 562.12 L54.60 562.12 L54.67 562.12 L54.75 562.12 L54.83 562.12 L54.90 562.12 L54.98 562.12 L55.06 562.12 L55.13 562.12 L55.21 562.12 L55.29 562.12 L55.36 562.12 L55.44 562.12 L55.52 562.12 L55.59 562.12 L55.67 562.12 L55.75 562.12 L55.82 562.12 L55.90 562.12 L55.98 562.12 L56.05 562.12 L56.13 562.12 L56.21 562.12 L56.28 562.12 L56.36 562.12 L56.44 562.12 L56.51 562.12 L56.59 562.12 L56.67 562.12 L56.74 562.12 L56.82 562.12 L56.90 562.12 L56.97 562.12 L57.05 560.93 L57.13 558.51 L57.20 556.14 L57.28 553.83 L57.36 551.57 L57.43 549.36 L57.51 547.20 L57.59 545.10 L57.67 543.04 L57.74 541.02 L57.82 539.05 L57.90 537.13 L57.97 535.25 L58.05 533.41 L58.13 531.62 L58.20 529.86 L58.28 528.15 L58.36 526.47 L58.43 524.83 L58.51 523.23 L58.59 521.66 L58.66 520.13 L58.74 518.63 L58.82 517.17 L58.89 515.73 L58.97 514.33 L59.05 512.96 L59.12 511.63 L59.20 510.32 L59.28 509.04 L59.35 507.78 L59.43 506.56 L59.51 505.36 L59.58 504.19 L59.66 503.04 L59.74 501.92 L59.81 500.83 L59.89 499.75 L59.97 498.71 L60.04 497.68 L60.12 496.68 L60.20 495.69 L60.27 494.73 L60.35 493.79 L60.43 492.87 L60.50 491.98 L60.58 491.10 L60.66 490.23 L60.73 489.39 L60.81 488.57 L60.89 487.76 L60.97 486.97 L61.04 486.20 L61.12 485.44 L61.20 484.70 L61.27 483.98 L61.35 483.27 L61.43 482.58 L61.50 481.90 L61.58 481.23 L61.66 480.58 L61.73 479.95 L61.81 479.32 L61.89 478.71 L61.96 478.12 L62.04 477.53 L62.12 476.96 L62.19 476.40 L62.27 475.85 L62.35 475.32 L62.42 474.79 L62.50 474.28 L62.58 473.77 L62.65 473.28 L62.73 472.79 L62.81 472.32 L62.88 471.86 L62.96 471.40 L63.04 470.96 L63.11 470.52 L63.19 470.10 L63.27 469.68 L63.34 469.27 L63.42 468.87 L63.50 468.48 L63.57 468.10 L63.65 467.72 L63.73 467.35 L63.80 466.99 L63.88 466.63 L63.96 466.29 L64.03 465.95 L64.11 465.61 L64.19 465.29 L64.27 464.97 L64.34 464.66 L64.42 464.35 L64.50 464.05 L64.57 463.75 L64.65 463.46 L64.73 463.18 L64.80 462.90 L64.88 462.63 L64.96 462.36 L65.03 462.10 L65.11 461.85 L65.19 461.59 L65.26 461.35 L65.34 461.11 L65.42 460.87 L65.49 460.64 L65.57 460.41 L65.65 460.18 L65.72 459.96 L65.80 459.75 L65.88 459.54 L65.95 459.33 L66.03 459.13 L66.11 458.93 L66.18 458.73 L66.26 458.54 L66.34 458.35 L66.41 458.17 L66.49 457.98 L66.57 457.81 L66.64 457.63 L66.72 457.46 L66.80 457.29 L66.87 457.12 L66.95 456.96 L67.03 456.80 L67.10 456.64 L67.18 456.49 L67.26 456.34 L67.33 456.19 L67.41 456.04 L67.49 455.90 L67.57 455.76 L67.64 455.62 L67.72 455.48 L67.80 455.35 L67.87 455.22 L67.95 455.09 L68.03 454.96 L68.10 454.83 L68.18 454.71 L68.26 454.59 L68.33 454.47 L68.41 454.35 L68.49 454.24 L68.56 454.12 L68.64 454.01 L68.72 453.90 L68.79 453.79 L68.87 453.69 L68.95 453.58 L69.02 453.48 L69.10 453.37 L69.18 453.27 L69.25 453.17 L69.33 453.08 L69.41 452.98 L69.48 452.89 L69.56 452.79 L69.64 452.70 L69.71 452.61 L69.79 452.52 L69.87 452.43 L69.94 452.34 L70.02 452.26 L70.10 452.17 L70.17 452.09 L70.25 452.00 L70.33 451.92 L70.40 451.84 L70.48 451.76 L70.56 451.68 L70.63 451.60 L70.71 451.52 L70.79 451.45 L70.87 451.37 L70.94 451.30 L71.02 451.22 L71.10 451.15 L71.17 451.08 L71.25 451.01 L71.33 450.94 L71.40 450.87 L71.48 450.80 L71.56 450.73 L71.63 450.66 L71.71 450.59 L71.79 450.53 L71.86 450.46 L71.94 450.39 L72.02 450.33 L72.09 450.26 L72.17 450.20 L72.25 450.14 L72.32 450.07 L72.40 450.01 L72.48 449.95 L72.55 449.89 L72.63 449.83 L72.71 449.77 L72.78 449.71 L72.86 449.65 L72.94 449.59 L73.01 449.53 L73.09 449.47 L73.17 449.41 L73.24 449.35 L73.32 449.30 L73.40 449.24 L73.47 449.18 L73.55 449.12 L73.63 449.07 L73.70 449.01 L73.78 448.96 L73.86 448.90 L73.93 448.85 L74.01 448.79 L74.09 448.74 L74.17 448.68 L74.24 448.63 L74.32 448.57 L74.40 448.52 L74.47 448.46 L74.55 448.41 L74.63 448.36 L74.70 448.30 L74.78 448.25 L74.86 448.20 L74.93 448.14 L75.01 448.09 L75.09 448.04 L75.16 447.99 L75.24 447.93 L75.32 447.88 L75.39 447.83 L75.47 447.78 L75.55 447.72 L75.62 447.67 L75.70 447.62 L75.78 447.57 L75.85 447.52 L75.93 447.47 L76.01 447.41 L76.08 447.36 L76.16 447.31 L76.24 447.26 L76.31 447.21 L76.39 447.16 L76.47 447.11 L76.54 447.05 L76.62 447.00 L76.70 446.95 L76.77 446.90 L76.85 446.85 L76.93 446.80 L77.00 446.75 L77.08 446.69 L77.16 446.64 L77.23 446.59 L77.31 446.54 L77.39 446.49 L77.47 446.44 L77.54 446.39 L77.62 446.33 L77.70 446.28 L77.77 446.23 L77.85 446.18 L77.93 446.13 L78.00 446.08 L78.08 446.03 L78.16 445.97 L78.23 445.92 L78.31 445.87 L78.39 445.82 L78.46 445.77 L78.54 445.71 L78.62 445.66 L78.69 445.61 L78.77 445.56 L78.85 445.51 L78.92 445.45 L79.00 445.40 L79.08 445.35 L79.15 445.30 L79.23 445.24 L79.31 445.19 L79.38 445.14 L79.46 445.08 L79.54 445.03 L79.61 444.98 L79.69 444.93 L79.77 444.87 L79.84 444.82 L79.92 444.77 L80.00 444.71 L80.07 444.66 L80.15 444.60 L80.23 444.55 L80.30 444.50 L80.38 444.44 L80.46 444.39 L80.53 444.33 L80.61 444.28 L80.69 444.23 L80.77 444.17 L80.84 444.12 L80.92 444.06 L81.00 444.01 L81.07 443.95 L81.15 443.90 L81.23 443.84 L81.30 443.79 L81.38 443.73 L81.46 443.68 L81.53 443.62 L81.61 443.57 L81.69 443.51 L81.76 443.45 L81.84 443.40 L81.92 443.34 L81.99 443.29 L82.07 443.23 L82.15 443.17 L82.22 443.12 L82.30 443.06 L82.38 443.00 L82.45 442.95 L82.53 442.89 L82.61 442.83 L82.68 442.78 L82.76 442.72 L82.84 442.66 L82.91 442.60 L82.99 442.55 L83.07 442.49 L83.14 442.43 L83.22 442.37 L84.09 441.71 L84.96 441.03 L85.83 440.33 L86.70 439.63 L87.57 438.91 L88.44 438.18 L89.31 437.44 L90.19 436.68 L91.06 435.92 L91.93 435.15 L92.80 434.37 L93.67 433.58 L94.54 432.79 L95.41 431.99 L96.28 431.19 L97.15 430.38 L98.02 429.57 L98.89 428.76 L99.76 427.94 L100.63 427.12 L101.50 426.31 L102.37 425.49 L103.24 424.67 L104.11 423.85 L104.98 423.03 L105.85 422.21 L106.72 421.40 L107.60 420.59 L108.47 419.78 L109.34 418.97 L110.21 418.16 L111.08 417.36 L111.95 416.56 L112.82 415.77 L113.69 414.98 L114.56 414.19 L115.43 413.41 L116.30 412.63 L117.17 411.86 L118.04 411.09 L118.91 410.32 L119.78 409.56 L120.65 408.81 L121.52 408.06 L122.39 407.32 L123.26 406.58 L124.13 405.85 L125.00 405.12 L125.88 404.40 L126.75 403.68 L127.62 402.97 L128.49 402.27 L129.36 401.57 L130.23 400.88 L131.10 400.19 L131.97 399.51 L132.84 398.83 L133.71 398.16 L134.58 397.50 L135.45 396.84 L136.32 396.18 L137.19 395.53 L138.06 394.89 L138.93 394.26 L139.80 393.62 L140.67 393.00 L141.54 392.38 L142.41 391.76 L143.29 391.15 L144.16 390.55 L145.03 389.95 L145.90 389.36 L146.77 388.77 L147.64 388.19 L148.51 387.61 L149.38 387.04 L150.25 386.47 L151.12 385.91 L151.99 385.36 L152.86 384.80 L153.73 384.26 L154.60 383.72 L155.47 383.18 L156.34 382.65 L157.21 382.12 L158.08 381.60 L158.95 381.08 L159.82 380.57 L160.70 380.06 L161.57 379.55 L162.44 379.05 L163.31 378.56 L164.18 378.07 L165.05 377.58 L165.92 377.10 L166.79 376.62 L167.66 376.15 L168.53 375.68 L169.40 375.21 L170.27 374.75 L171.14 374.30 L172.01 373.84 L172.88 373.39 L173.75 372.95 L174.62 372.51 L175.49 372.07 L176.36 371.64 L177.23 371.21 L178.11 370.78 L178.98 370.36 L179.85 369.94 L180.72 369.52 L181.59 369.11 L182.46 368.70 L183.33 368.30 L184.20 367.89 L185.07 367.50 L185.94 367.10 L186.81 366.71 L187.68 366.32 L188.55 365.94 L189.42 365.55 L190.29 365.18 L191.16 364.80 L192.03 364.43 L192.90 364.06 L193.77 363.69 L194.64 363.33 L195.52 362.97 L196.39 362.61 L197.26 362.25 L198.13 361.90 L199.00 361.55 L199.87 361.21 L200.74 360.86 L201.61 360.52 L202.48 360.18 L203.35 359.85 L204.22 359.51 L205.09 359.18 L205.96 358.85 L206.83 358.53 L207.70 358.21 L208.57 357.89 L209.44 357.57 L210.31 357.25 L211.18 356.94 L212.05 356.63 L212.93 356.32 L213.80 356.01 L214.67 355.71 L215.54 355.41 L216.41 355.11 L217.28 354.81 L218.15 354.52 L219.02 354.23 L219.89 353.94 L220.76 353.65 L221.63 353.36 L222.50 353.08 L223.37 352.80 L224.24 352.52 L225.11 352.24 L225.98 351.96 L226.85 351.69 L227.72 351.42 L228.59 351.15 L229.46 350.88 L230.34 350.61 L231.21 350.35 L232.08 350.09 L232.95 349.83 L233.82 349.57 L234.69 349.31 L235.56 349.05 L236.43 348.80 L237.30 348.55 L238.17 348.30 L239.04 348.05 L239.91 347.81 L240.78 347.56 L241.65 347.32 L242.52 347.08 L243.39 346.84 L244.26 346.60 L245.13 346.36 L246.00 346.13 L246.87 345.89 L247.75 345.66 L248.62 345.43 L249.49 345.20 L250.36 344.98 L251.23 344.75 L252.10 344.53 L252.97 344.30 L253.84 344.08 L254.71 343.86 L255.58 343.64 L256.45 343.43 L257.32 343.21 L258.19 343.00 L259.06 342.79 L259.93 342.57 L260.80 342.36 L261.67 342.16 L262.54 341.95 L263.41 341.74 L264.28 341.54 L265.16 341.33 L266.03 341.13 L266.90 340.93 L267.77 340.73 L268.64 340.53 L269.51 340.34 L270.38 340.14 L271.25 339.94 L272.12 339.75 L272.99 339.56 L273.86 339.37 L274.73 339.18 L275.60 338.99 L276.47 338.80 L277.34 338.61 L278.21 338.43 L279.08 338.24 L279.95 338.06 L280.82 337.88 L281.69 337.70 L282.57 337.52 L283.44 337.34 L284.31 337.16 L285.18 336.98 L286.05 336.81 L286.92 336.63 L287.79 336.46 L288.66 336.29 L289.53 336.12 L290.40 335.95 L291.27 335.78 L292.14 335.61 L293.01 335.44 L293.88 335.27 L294.75 335.11 L295.62 334.94 L296.49 334.78 L297.36 334.61 L298.23 334.45 L299.10 334.29 L299.98 334.13 L300.85 333.97 L301.72 333.81 L302.59 333.66 L303.46 333.50 L304.33 333.34 L305.20 333.19 L306.07 333.03 L306.94 332.88 L307.81 332.73 L308.68 332.58 L309.55 332.43 L310.42 332.28 L311.29 332.13 L312.16 331.98 L313.03 331.83 L313.90 331.69 L314.77 331.54 L315.64 331.39 L316.51 331.25 L317.39 331.11 L318.26 330.96 L319.13 330.82 L320.00 330.68 L320.87 330.54 L321.74 330.40 L322.61 330.26 L323.48 330.12 L324.35 329.98 L325.22 329.85 L326.09 329.71 L326.96 329.58 L327.83 329.44 L328.70 329.31 L329.57 329.17 L330.44 329.04 L331.31 328.91 L332.18 328.78 L333.05 328.65 L333.92 328.52 L334.80 328.39 L335.67 328.26 L336.54 328.13 L337.41 328.00 L338.28 327.88 L339.15 327.75 L340.02 327.63 L340.89 327.50 L341.76 327.38 L342.63 327.25 L343.50 327.13" fill="none" stroke="#ff0000" stroke-width="1.10" stroke-linejoin="round" stroke-linecap="butt" clip-path="url(#c3)" />
<path d="M52.60 562.12 L52.68 562.12 L52.75 562.12 L52.83 562.12 L52.91 562.12 L52.98 562.12 L53.06 562.12 L53.14 562.12 L53.21 562.12 L53.29 562.12 L53.37 562.12 L53.44 562.12 L53.52 562.12 L53.60 562.12 L53.67 562.12 L53.75 562.12 L53.83 562.12 L53.90 562.12 L53.98 562.12 L54.06 562.12 L54.13 562.12 L54.21 562.12 L54.29 562.12 L54.37 562.12 L54.44 562.12 L54.52 562.12 L54.60 562.12 L54.67 562.12 L54.75 562.12 L54.83 562.12 L54.90 562.12 L54.98 562.12 L55.06 562.12 L55.13 562.12 L55.21 562.12 L55.29 562.12 L55.36 562.12 L55.44 557.92 L55.52 553.54 L55.59 549.27 L55.67 545.11 L55.75 541.05 L55.82 537.10 L55.90 533.25 L55.98 529.50 L56.05 525.85 L56.13 522.29 L56.21 518.82 L56.28 515.44 L56.36 512.15 L56.44 508.94 L56.51 505.81 L56.59 502.76 L56.67 499.79 L56.74 496.90 L56.82 494.08 L56.90 491.33 L56.97 488.66 L57.05 486.05 L57.13 483.50 L57.20 481.03 L57.28 478.61 L57.36 476.26 L57.43 473.97 L57.51 471.74 L57.59 469.56 L57.67 467.45 L57.74 465.38 L57.82 463.37 L57.90 461.41 L57.97 459.50 L58.05 457.64 L58.13 455.83 L58.20 454.06 L58.28 452.35 L58.36 450.67 L58.43 449.04 L58.51 447.45 L58.59 445.90 L58.66 444.40 L58.74 442.93 L58.82 441.50 L58.89 440.11 L58.97 438.76 L59.05 437.44 L59.12 436.15 L59.20 434.90 L59.28 433.69 L59.35 432.50 L59.43 431.35 L59.51 430.23 L59.58 429.13 L59.66 428.07 L59.74 427.04 L59.81 426.03 L59.89 425.05 L59.97 424.10 L60.04 423.17 L60.12 422.27 L60.20 421.39 L60.27 420.54 L60.35 419.71 L60.43 418.91 L60.50 418.13 L60.58 417.36 L60.66 416.62 L60.73 415.91 L60.81 415.21 L60.89 414.53 L60.97 413.87 L61.04 413.23 L61.12 412.61 L61.20 412.01 L61.27 411.42 L61.35 410.85 L61.43 410.30 L61.50 409.76 L61.58 409.24 L61.66 408.74 L61.73 408.25 L61.81 407.78 L61.89 407.32 L61.96 406.87 L62.04 406.44 L62.12 406.03 L62.19 405.62 L62.27 405.23 L62.35 404.85 L62.42 404.48 L62.50 404.13 L62.58 403.79 L62.65 403.46 L62.73 403.14 L62.81 402.83 L62.88 402.53 L62.96 402.24 L63.04 401.96 L63.11 401.69 L63.19 401.43 L63.27 401.18 L63.34 400.94 L63.42 400.71 L63.50 400.49 L63.57 400.28 L63.65 400.07 L63.73 399.87 L63.80 399.68 L63.88 399.50 L63.96 399.33 L64.03 399.16 L64.11 399.00 L64.19 398.85 L64.27 398.70 L64.34 398.56 L64.42 398.43 L64.50 398.30 L64.57 398.18 L64.65 398.07 L64.73 397.96 L64.80 397.86 L64.88 397.76 L64.96 397.67 L65.03 397.58 L65.11 397.50 L65.19 397.42 L65.26 397.35 L65.34 397.29 L65.42 397.22 L65.49 397.17 L65.57 397.11 L65.65 397.07 L65.72 397.02 L65.80 396.98 L65.88 396.94 L65.95 396.91 L66.03 396.88 L66.11 396.86 L66.18 396.84 L66.26 396.82 L66.34 396.81 L66.41 396.79 L66.49 396.79 L66.57 396.78 L66.64 396.78 L66.72 396.78 L66.80 396.79 L66.87 396.79 L66.95 396.80 L67.03 396.81 L67.10 396.83 L67.18 396.85 L67.26 396.87 L67.33 396.89 L67.41 396.91 L67.49 396.94 L67.57 396.97 L67.64 397.00 L67.72 397.03 L67.80 397.07 L67.87 397.10 L67.95 397.14 L68.03 397.18 L68.10 397.23 L68.18 397.27 L68.26 397.32 L68.33 397.36 L68.41 397.41 L68.49 397.46 L68.56 397.51 L68.64 397.57 L68.72 397.62 L68.79 397.68 L68.87 397.73 L68.95 397.79 L69.02 397.85 L69.10 397.91 L69.18 397.97 L69.25 398.04 L69.33 398.10 L69.41 398.16 L69.48 398.23 L69.56 398.30 L69.64 398.36 L69.71 398.43 L69.79 398.50 L69.87 398.57 L69.94 398.64 L70.02 398.71 L70.10 398.78 L70.17 398.86 L70.25 398.93 L70.33 399.00 L70.40 399.08 L70.48 399.15 L70.56 399.23 L70.63 399.30 L70.71 399.38 L70.79 399.46 L70.87 399.53 L70.94 399.61 L71.02 399.69 L71.10 399.77 L71.17 399.84 L71.25 399.92 L71.33 400.00 L71.40 400.08 L71.48 400.16 L71.56 400.24 L71.63 400.32 L71.71 400.40 L71.79 400.48 L71.86 400.56 L71.94 400.64 L72.02 400.72 L72.09 400.80 L72.17 400.88 L72.25 400.96 L72.32 401.04 L72.40 401.12 L72.48 401.20 L72.55 401.28 L72.63 401.37 L72.71 401.45 L72.78 401.53 L72.86 401.61 L72.94 401.69 L73.01 401.77 L73.09 401.85 L73.17 401.93 L73.24 402.01 L73.32 402.09 L73.40 402.17 L73.47 402.25 L73.55 402.33 L73.63 402.41 L73.70 402.48 L73.78 402.56 L73.86 402.64 L73.93 402.72 L74.01 402.80 L74.09 402.88 L74.17 402.95 L74.24 403.03 L74.32 403.11 L74.40 403.19 L74.47 403.26 L74.55 403.34 L74.63 403.41 L74.70 403.49 L74.78 403.57 L74.86 403.64 L74.93 403.72 L75.01 403.79 L75.09 403.87 L75.16 403.94 L75.24 404.01 L75.32 404.09 L75.39 404.16 L75.47 404.23 L75.55 404.30 L75.62 404.38 L75.70 404.45 L75.78 404.52 L75.85 404.59 L75.93 404.66 L76.01 404.73 L76.08 404.80 L76.16 404.87 L76.24 404.94 L76.31 405.00 L76.39 405.07 L76.47 405.14 L76.54 405.21 L76.62 405.27 L76.70 405.34 L76.77 405.41 L76.85 405.47 L76.93 405.54 L77.00 405.60 L77.08 405.67 L77.16 405.73 L77.23 405.79 L77.31 405.86 L77.39 405.92 L77.47 405.98 L77.54 406.04 L77.62 406.10 L77.70 406.16 L77.77 406.22 L77.85 406.28 L77.93 406.34 L78.00 406.40 L78.08 406.46 L78.16 406.52 L78.23 406.58 L78.31 406.63 L78.39 406.69 L78.46 406.75 L78.54 406.80 L78.62 406.86 L78.69 406.91 L78.77 406.97 L78.85 407.02 L78.92 407.07 L79.00 407.13 L79.08 407.18 L79.15 407.23 L79.23 407.28 L79.31 407.33 L79.38 407.39 L79.46 407.44 L79.54 407.49 L79.61 407.53 L79.69 407.58 L79.77 407.63 L79.84 407.68 L79.92 407.73 L80.00 407.77 L80.07 407.82 L80.15 407.87 L80.23 407.91 L80.30 407.96 L80.38 408.00 L80.46 408.05 L80.53 408.09 L80.61 408.13 L80.69 408.18 L80.77 408.22 L80.84 408.26 L80.92 408.30 L81.00 408.35 L81.07 408.39 L81.15 408.43 L81.23 408.47 L81.30 408.51 L81.38 408.54 L81.46 408.58 L81.53 408.62 L81.61 408.66 L81.69 408.70 L81.76 408.73 L81.84 408.77 L81.92 408.80 L81.99 408.84 L82.07 408.87 L82.15 408.91 L82.22 408.94 L82.30 408.98 L82.38 409.01 L82.45 409.04 L82.53 409.07 L82.61 409.11 L82.68 409.14 L82.76 409.17 L82.84 409.20 L82.91 409.23 L82.99 409.26 L83.07 409.29 L83.14 409.32 L83.22 409.35 L84.09 409.64 L84.96 409.88 L85.83 410.07 L86.70 410.21 L87.57 410.31 L88.44 410.36 L89.31 410.37 L90.19 410.34 L91.06 410.28 L91.93 410.18 L92.80 410.05 L93.67 409.88 L94.54 409.69 L95.41 409.47 L96.28 409.22 L97.15 408.95 L98.02 408.66 L98.89 408.35 L99.76 408.02 L100.63 407.67 L101.50 407.30 L102.37 406.92 L103.24 406.52 L104.11 406.11 L104.98 405.68 L105.85 405.25 L106.72 404.80 L107.60 404.35 L108.47 403.88 L109.34 403.41 L110.21 402.93 L111.08 402.45 L111.95 401.95 L112.82 401.46 L113.69 400.95 L114.56 400.45 L115.43 399.94 L116.30 399.42 L117.17 398.90 L118.04 398.38 L118.91 397.86 L119.78 397.34 L120.65 396.81 L121.52 396.29 L122.39 395.76 L123.26 395.23 L124.13 394.70 L125.00 394.18 L125.88 393.65 L126.75 393.12 L127.62 392.59 L128.49 392.07 L129.36 391.55 L130.23 391.02 L131.10 390.50 L131.97 389.98 L132.84 389.46 L133.71 388.95 L134.58 388.43 L135.45 387.92 L136.32 387.41 L137.19 386.90 L138.06 386.39 L138.93 385.89 L139.80 385.39 L140.67 384.89 L141.54 384.40 L142.41 383.90 L143.29 383.41 L144.16 382.93 L145.03 382.44 L145.90 381.96 L146.77 381.48 L147.64 381.00 L148.51 380.53 L149.38 380.06 L150.25 379.59 L151.12 379.13 L151.99 378.67 L152.86 378.21 L153.73 377.76 L154.60 377.30 L155.47 376.85 L156.34 376.41 L157.21 375.97 L158.08 375.53 L158.95 375.09 L159.82 374.65 L160.70 374.22 L161.57 373.80 L162.44 373.37 L163.31 372.95 L164.18 372.53 L165.05 372.12 L165.92 371.70 L166.79 371.29 L167.66 370.89 L168.53 370.48 L169.40 370.08 L170.27 369.68 L171.14 369.29 L172.01 368.90 L172.88 368.51 L173.75 368.12 L174.62 367.74 L175.49 367.35 L176.36 366.98 L177.23 366.60 L178.11 366.23 L178.98 365.86 L179.85 365.49 L180.72 365.13 L181.59 364.76 L182.46 364.40 L183.33 364.05 L184.20 363.69 L185.07 363.34 L185.94 362.99 L186.81 362.65 L187.68 362.30 L188.55 361.96 L189.42 361.62 L190.29 361.29 L191.16 360.95 L192.03 360.62 L192.90 360.29 L193.77 359.96 L194.64 359.64 L195.52 359.32 L196.39 359.00 L197.26 358.68 L198.13 358.36 L199.00 358.05 L199.87 357.74 L200.74 357.43 L201.61 357.13 L202.48 356.82 L203.35 356.52 L204.22 356.22 L205.09 355.92 L205.96 355.62 L206.83 355.33 L207.70 355.04 L208.57 354.75 L209.44 354.46 L210.31 354.18 L211.18 353.89 L212.05 353.61 L212.93 353.33 L213.80 353.05 L214.67 352.78 L215.54 352.50 L216.41 352.23 L217.28 351.96 L218.15 351.69 L219.02 351.43 L219.89 351.16 L220.76 350.90 L221.63 350.64 L222.50 350.38 L223.37 350.12 L224.24 349.86 L225.11 349.61 L225.98 349.36 L226.85 349.11 L227.72 348.86 L228.59 348.61 L229.46 348.36 L230.34 348.12 L231.21 347.88 L232.08 347.63 L232.95 347.39 L233.82 347.16 L234.69 346.92 L235.56 346.69 L236.43 346.45 L237.30 346.22 L238.17 345.99 L239.04 345.76 L239.91 345.53 L240.78 345.31 L241.65 345.08 L242.52 344.86 L243.39 344.64 L244.26 344.42 L245.13 344.20 L246.00 343.98 L246.87 343.77 L247.75 343.55 L248.62 343.34 L249.49 343.13 L250.36 342.91 L251.23 342.70 L252.10 342.50 L252.97 342.29 L253.84 342.08 L254.71 341.88 L255.58 341.68 L256.45 341.47 L257.32 341.27 L258.19 341.07 L259.06 340.88 L259.93 340.68 L260.80 340.48 L261.67 340.29 L262.54 340.10 L263.41 339.90 L264.28 339.71 L265.16 339.52 L266.03 339.33 L266.90 339.15 L267.77 338.96 L268.64 338.77 L269.51 338.59 L270.38 338.41 L271.25 338.22 L272.12 338.04 L272.99 337.86 L273.86 337.68 L274.73 337.50 L275.60 337.33 L276.47 337.15 L277.34 336.98 L278.21 336.80 L279.08 336.63 L279.95 336.46 L280.82 336.29 L281.69 336.12 L282.57 335.95 L283.44 335.78 L284.31 335.61 L285.18 335.45 L286.05 335.28 L286.92 335.12 L287.79 334.95 L288.66 334.79 L289.53 334.63 L290.40 334.47 L291.27 334.31 L292.14 334.15 L293.01 333.99 L293.88 333.83 L294.75 333.68 L295.62 333.52 L296.49 333.37 L297.36 333.21 L298.23 333.06 L299.10 332.91 L299.98 332.76 L300.85 332.61 L301.72 332.46 L302.59 332.31 L303.46 332.16 L304.33 332.01 L305.20 331.87 L306.07 331.72 L306.94 331.57 L307.81 331.43 L308.68 331.29 L309.55 331.14 L310.42 331.00 L311.29 330.86 L312.16 330.72 L313.03 330.58 L313.90 330.44 L314.77 330.30 L315.64 330.17 L316.51 330.03 L317.39 329.89 L318.26 329.76 L319.13 329.62 L320.00 329.49 L320.87 329.36 L321.74 329.22 L322.61 329.09 L323.48 328.96 L324.35 328.83 L325.22 328.70 L326.09 328.57 L326.96 328.44 L327.83 328.31 L328.70 328.18 L329.57 328.06 L330.44 327.93 L331.31 327.81 L332.18 327.68 L333.05 327.56 L333.92 327.43 L334.80 327.31 L335.67 327.19 L336.54 327.07 L337.41 326.94 L338.28 326.82 L339.15 326.70 L340.02 326.58 L340.89 326.46 L341.76 326.35 L342.63 326.23 L343.50 326.11" fill="none" stroke="#00ff00" stroke-width="1.10" stroke-linejoin="round" stroke-linecap="butt" clip-path="url(#c3)" />
<path d="M52.60 562.12 L52.68 562.12 L52.75 562.12 L52.83 562.12 L52.91 562.12 L52.98 562.12 L53.06 562.12 L53.14 562.12 L53.21 562.12 L53.29 562.12 L53.37 562.12 L53.44 562.12 L53.52 562.12 L53.60 562.12 L53.67 562.12 L53.75 562.12 L53.83 562.12 L53.90 562.12 L53.98 562.12 L54.06 562.12 L54.13 562.12 L54.21 562.12 L54.29 562.12 L54.37 558.82 L54.44 551.84 L54.52 545.05 L54.60 538.45 L54.67 532.02 L54.75 525.78 L54.83 519.70 L54.90 513.79 L54.98 508.04 L55.06 502.45 L55.13 497.01 L55.21 491.72 L55.29 486.57 L55.36 481.57 L55.44 476.70 L55.52 471.97 L55.59 467.37 L55.67 462.89 L55.75 458.54 L55.82 454.30 L55.90 450.19 L55.98 446.18 L56.05 442.29 L56.13 438.51 L56.21 434.82 L56.28 431.25 L56.36 427.77 L56.44 424.38 L56.51 421.10 L56.59 417.90 L56.67 414.79 L56.74 411.77 L56.82 408.84 L56.90 405.99 L56.97 403.21 L57.05 400.52 L57.13 397.90 L57.20 395.36 L57.28 392.89 L57.36 390.49 L57.43 388.16 L57.51 385.90 L57.59 383.70 L57.67 381.56 L57.74 379.49 L57.82 377.48 L57.90 375.53 L57.97 373.63 L58.05 371.79 L58.13 370.01 L58.20 368.27 L58.28 366.59 L58.36 364.97 L58.43 363.39 L58.51 361.85 L58.59 360.37 L58.66 358.93 L58.74 357.53 L58.82 356.18 L58.89 354.87 L58.97 353.61 L59.05 352.38 L59.12 351.19 L59.20 350.04 L59.28 348.93 L59.35 347.85 L59.43 346.81 L59.51 345.80 L59.58 344.83 L59.66 343.89 L59.74 342.98 L59.81 342.10 L59.89 341.26 L59.97 340.44 L60.04 339.65 L60.12 338.89 L60.20 338.16 L60.27 337.45 L60.35 336.78 L60.43 336.12 L60.50 335.49 L60.58 334.89 L60.66 334.31 L60.73 333.75 L60.81 333.22 L60.89 332.70 L60.97 332.21 L61.04 331.74 L61.12 331.29 L61.20 330.86 L61.27 330.45 L61.35 330.05 L61.43 329.68 L61.50 329.32 L61.58 328.98 L61.66 328.66 L61.73 328.36 L61.81 328.07 L61.89 327.79 L61.96 327.53 L62.04 327.29 L62.12 327.06 L62.19 326.85 L62.27 326.65 L62.35 326.46 L62.42 326.29 L62.50 326.13 L62.58 325.98 L62.65 325.84 L62.73 325.72 L62.81 325.60 L62.88 325.50 L62.96 325.41 L63.04 325.33 L63.11 325.26 L63.19 325.20 L63.27 325.15 L63.34 325.11 L63.42 325.08 L63.50 325.06 L63.57 325.05 L63.65 325.04 L63.73 325.05 L63.80 325.06 L63.88 325.08 L63.96 325.11 L64.03 325.15 L64.11 325.19 L64.19 325.24 L64.27 325.30 L64.34 325.36 L64.42 325.43 L64.50 325.51 L64.57 325.59 L64.65 325.68 L64.73 325.77 L64.80 325.88 L64.88 325.98 L64.96 326.09 L65.03 326.21 L65.11 326.33 L65.19 326.46 L65.26 326.59 L65.34 326.73 L65.42 326.87 L65.49 327.01 L65.57 327.16 L65.65 327.32 L65.72 327.47 L65.80 327.63 L65.88 327.80 L65.95 327.97 L66.03 328.14 L66.11 328.32 L66.18 328.50 L66.26 328.68 L66.34 328.86 L66.41 329.05 L66.49 329.24 L66.57 329.44 L66.64 329.63 L66.72 329.83 L66.80 330.03 L66.87 330.24 L66.95 330.45 L67.03 330.65 L67.10 330.87 L67.18 331.08 L67.26 331.29 L67.33 331.51 L67.41 331.73 L67.49 331.95 L67.57 332.17 L67.64 332.40 L67.72 332.62 L67.80 332.85 L67.87 333.08 L67.95 333.31 L68.03 333.54 L68.10 333.77 L68.18 334.01 L68.26 334.24 L68.33 334.48 L68.41 334.71 L68.49 334.95 L68.56 335.19 L68.64 335.43 L68.72 335.67 L68.79 335.91 L68.87 336.16 L68.95 336.40 L69.02 336.64 L69.10 336.89 L69.18 337.13 L69.25 337.38 L69.33 337.62 L69.41 337.87 L69.48 338.12 L69.56 338.36 L69.64 338.61 L69.71 338.86 L69.79 339.11 L69.87 339.36 L69.94 339.60 L70.02 339.85 L70.10 340.10 L70.17 340.35 L70.25 340.60 L70.33 340.85 L70.40 341.10 L70.48 341.35 L70.56 341.59 L70.63 341.84 L70.71 342.09 L70.79 342.34 L70.87 342.59 L70.94 342.84 L71.02 343.08 L71.10 343.33 L71.17 343.58 L71.25 343.83 L71.33 344.07 L71.40 344.32 L71.48 344.57 L71.56 344.81 L71.63 345.06 L71.71 345.30 L71.79 345.55 L71.86 345.79 L71.94 346.04 L72.02 346.28 L72.09 346.52 L72.17 346.76 L72.25 347.01 L72.32 347.25 L72.40 347.49 L72.48 347.73 L72.55 347.97 L72.63 348.21 L72.71 348.44 L72.78 348.68 L72.86 348.92 L72.94 349.16 L73.01 349.39 L73.09 349.63 L73.17 349.86 L73.24 350.10 L73.32 350.33 L73.40 350.56 L73.47 350.79 L73.55 351.02 L73.63 351.26 L73.70 351.48 L73.78 351.71 L73.86 351.94 L73.93 352.17 L74.01 352.40 L74.09 352.62 L74.17 352.85 L74.24 353.07 L74.32 353.30 L74.40 353.52 L74.47 353.74 L74.55 353.96 L74.63 354.18 L74.70 354.40 L74.78 354.62 L74.86 354.84 L74.93 355.05 L75.01 355.27 L75.09 355.49 L75.16 355.70 L75.24 355.91 L75.32 356.13 L75.39 356.34 L75.47 356.55 L75.55 356.76 L75.62 356.97 L75.70 357.18 L75.78 357.38 L75.85 357.59 L75.93 357.80 L76.01 358.00 L76.08 358.21 L76.16 358.41 L76.24 358.61 L76.31 358.81 L76.39 359.01 L76.47 359.21 L76.54 359.41 L76.62 359.61 L76.70 359.81 L76.77 360.00 L76.85 360.20 L76.93 360.39 L77.00 360.58 L77.08 360.78 L77.16 360.97 L77.23 361.16 L77.31 361.35 L77.39 361.54 L77.47 361.72 L77.54 361.91 L77.62 362.10 L77.70 362.28 L77.77 362.47 L77.85 362.65 L77.93 362.83 L78.00 363.01 L78.08 363.19 L78.16 363.37 L78.23 363.55 L78.31 363.73 L78.39 363.91 L78.46 364.08 L78.54 364.26 L78.62 364.43 L78.69 364.61 L78.77 364.78 L78.85 364.95 L78.92 365.12 L79.00 365.29 L79.08 365.46 L79.15 365.63 L79.23 365.79 L79.31 365.96 L79.38 366.13 L79.46 366.29 L79.54 366.45 L79.61 366.62 L79.69 366.78 L79.77 366.94 L79.84 367.10 L79.92 367.26 L80.00 367.42 L80.07 367.57 L80.15 367.73 L80.23 367.89 L80.30 368.04 L80.38 368.19 L80.46 368.35 L80.53 368.50 L80.61 368.65 L80.69 368.80 L80.77 368.95 L80.84 369.10 L80.92 369.25 L81.00 369.39 L81.07 369.54 L81.15 369.69 L81.23 369.83 L81.30 369.97 L81.38 370.12 L81.46 370.26 L81.53 370.40 L81.61 370.54 L81.69 370.68 L81.76 370.82 L81.84 370.96 L81.92 371.09 L81.99 371.23 L82.07 371.36 L82.15 371.50 L82.22 371.63 L82.30 371.77 L82.38 371.90 L82.45 372.03 L82.53 372.16 L82.61 372.29 L82.68 372.42 L82.76 372.55 L82.84 372.67 L82.91 372.80 L82.99 372.93 L83.07 373.05 L83.14 373.18 L83.22 373.30 L84.09 374.65 L84.96 375.90 L85.83 377.06 L86.70 378.14 L87.57 379.13 L88.44 380.04 L89.31 380.88 L90.19 381.65 L91.06 382.35 L91.93 382.98 L92.80 383.56 L93.67 384.08 L94.54 384.54 L95.41 384.96 L96.28 385.32 L97.15 385.64 L98.02 385.92 L98.89 386.15 L99.76 386.35 L100.63 386.51 L101.50 386.63 L102.37 386.73 L103.24 386.79 L104.11 386.82 L104.98 386.83 L105.85 386.81 L106.72 386.77 L107.60 386.71 L108.47 386.62 L109.34 386.51 L110.21 386.39 L111.08 386.25 L111.95 386.09 L112.82 385.91 L113.69 385.72 L114.56 385.52 L115.43 385.31 L116.30 385.08 L117.17 384.84 L118.04 384.59 L118.91 384.33 L119.78 384.07 L120.65 383.79 L121.52 383.50 L122.39 383.21 L123.26 382.91 L124.13 382.61 L125.00 382.30 L125.88 381.98 L126.75 381.66 L127.62 381.33 L128.49 381.00 L129.36 380.67 L130.23 380.33 L131.10 379.99 L131.97 379.65 L132.84 379.30 L133.71 378.95 L134.58 378.60 L135.45 378.25 L136.32 377.89 L137.19 377.54 L138.06 377.18 L138.93 376.82 L139.80 376.46 L140.67 376.10 L141.54 375.74 L142.41 375.38 L143.29 375.02 L144.16 374.66 L145.03 374.30 L145.90 373.94 L146.77 373.58 L147.64 373.22 L148.51 372.86 L149.38 372.50 L150.25 372.14 L151.12 371.78 L151.99 371.42 L152.86 371.06 L153.73 370.71 L154.60 370.35 L155.47 370.00 L156.34 369.65 L157.21 369.30 L158.08 368.95 L158.95 368.60 L159.82 368.25 L160.70 367.90 L161.57 367.56 L162.44 367.21 L163.31 366.87 L164.18 366.53 L165.05 366.19 L165.92 365.86 L166.79 365.52 L167.66 365.18 L168.53 364.85 L169.40 364.52 L170.27 364.19 L171.14 363.86 L172.01 363.54 L172.88 363.21 L173.75 362.89 L174.62 362.57 L175.49 362.25 L176.36 361.93 L177.23 361.61 L178.11 361.30 L178.98 360.99 L179.85 360.68 L180.72 360.37 L181.59 360.06 L182.46 359.75 L183.33 359.45 L184.20 359.15 L185.07 358.84 L185.94 358.55 L186.81 358.25 L187.68 357.95 L188.55 357.66 L189.42 357.37 L190.29 357.08 L191.16 356.79 L192.03 356.50 L192.90 356.21 L193.77 355.93 L194.64 355.65 L195.52 355.37 L196.39 355.09 L197.26 354.81 L198.13 354.54 L199.00 354.26 L199.87 353.99 L200.74 353.72 L201.61 353.45 L202.48 353.18 L203.35 352.92 L204.22 352.65 L205.09 352.39 L205.96 352.13 L206.83 351.87 L207.70 351.61 L208.57 351.35 L209.44 351.10 L210.31 350.85 L211.18 350.59 L212.05 350.34 L212.93 350.09 L213.80 349.85 L214.67 349.60 L215.54 349.36 L216.41 349.11 L217.28 348.87 L218.15 348.63 L219.02 348.39 L219.89 348.16 L220.76 347.92 L221.63 347.69 L222.50 347.45 L223.37 347.22 L224.24 346.99 L225.11 346.76 L225.98 346.54 L226.85 346.31 L227.72 346.09 L228.59 345.86 L229.46 345.64 L230.34 345.42 L231.21 345.20 L232.08 344.98 L232.95 344.76 L233.82 344.55 L234.69 344.33 L235.56 344.12 L236.43 343.91 L237.30 343.70 L238.17 343.49 L239.04 343.28 L239.91 343.07 L240.78 342.87 L241.65 342.66 L242.52 342.46 L243.39 342.26 L244.26 342.06 L245.13 341.86 L246.00 341.66 L246.87 341.46 L247.75 341.27 L248.62 341.07 L249.49 340.88 L250.36 340.68 L251.23 340.49 L252.10 340.30 L252.97 340.11 L253.84 339.92 L254.71 339.73 L255.58 339.55 L256.45 339.36 L257.32 339.18 L258.19 338.99 L259.06 338.81 L259.93 338.63 L260.80 338.45 L261.67 338.27 L262.54 338.09 L263.41 337.91 L264.28 337.74 L265.16 337.56 L266.03 337.39 L266.90 337.21 L267.77 337.04 L268.64 336.87 L269.51 336.70 L270.38 336.53 L271.25 336.36 L272.12 336.19 L272.99 336.03 L273.86 335.86 L274.73 335.70 L275.60 335.53 L276.47 335.37 L277.34 335.21 L278.21 335.04 L279.08 334.88 L279.95 334.72 L280.82 334.56 L281.69 334.41 L282.57 334.25 L283.44 334.09 L284.31 333.94 L285.18 333.78 L286.05 333.63 L286.92 333.47 L287.79 333.32 L288.66 333.17 L289.53 333.02 L290.40 332.87 L291.27 332.72 L292.14 332.57 L293.01 332.42 L293.88 332.28 L294.75 332.13 L295.62 331.99 L296.49 331.84 L297.36 331.70 L298.23 331.55 L299.10 331.41 L299.98 331.27 L300.85 331.13 L301.72 330.99 L302.59 330.85 L303.46 330.71 L304.33 330.57 L305.20 330.43 L306.07 330.30 L306.94 330.16 L307.81 330.03 L308.68 329.89 L309.55 329.76 L310.42 329.62 L311.29 329.49 L312.16 329.36 L313.03 329.23 L313.90 329.10 L314.77 328.97 L315.64 328.84 L316.51 328.71 L317.39 328.58 L318.26 328.45 L319.13 328.33 L320.00 328.20 L320.87 328.07 L321.74 327.95 L322.61 327.82 L323.48 327.70 L324.35 327.58 L325.22 327.45 L326.09 327.33 L326.96 327.21 L327.83 327.09 L328.70 326.97 L329.57 326.85 L330.44 326.73 L331.31 326.61 L332.18 326.49 L333.05 326.38 L333.92 326.26 L334.80 326.14 L335.67 326.03 L336.54 325.91 L337.41 325.80 L338.28 325.68 L339.15 325.57 L340.02 325.46 L340.89 325.34 L341.76 325.23 L342.63 325.12 L343.50 325.01" fill="none" stroke="#0000ff" stroke-width="1.10" stroke-linejoin="round" stroke-linecap="butt" clip-path="url(#c3)" />
<line x1="52.60" y1="343.50" x2="343.50" y2="343.50" stroke="#000" stroke-width="1.3" stroke-dasharray="2.45 1.42"/>
<path d="M454.42 127.50 L454.42 127.40 L454.43 127.29 L454.43 127.19 L454.44 127.09 L454.45 126.99 L454.47 126.88 L454.49 126.78 L454.51 126.68 L454.53 126.58 L454.55 126.48 L454.58 126.37 L454.61 126.27 L454.65 126.17 L454.68 126.07 L454.72 125.97 L454.76 125.87 L454.80 125.77 L454.85 125.67 L454.90 125.57 L454.95 125.47 L455.00 125.37 L455.06 125.27 L455.12 125.17 L455.18 125.07 L455.25 124.97 L455.31 124.88 L455.38 124.78 L455.45 124.68 L455.53 124.59 L455.60 124.49 L455.68 124.40 L455.77 124.30 L455.85 124.21 L455.94 124.12 L456.03 124.02 L456.12 123.93 L456.21 123.84 L456.31 123.75 L456.40 123.66 L456.51 123.57 L456.61 123.48 L456.71 123.39 L456.82 123.30 L456.93 123.22 L457.04 123.13 L457.16 123.04 L457.27 122.96 L457.39 122.88 L457.51 122.79 L457.64 122.71 L457.76 122.63 L457.89 122.55 L458.02 122.47 L458.15 122.39 L458.28 122.31 L458.42 122.23 L458.55 122.16 L458.69 122.08 L458.83 122.01 L458.98 121.93 L459.12 121.86 L459.27 121.79 L459.42 121.72 L459.57 121.65 L459.72 121.58 L459.88 121.51 L460.03 121.44 L460.19 121.37 L460.35 121.31 L460.51 121.25 L460.67 121.18 L460.83 121.12 L461.00 121.06 L461.17 121.00 L461.34 120.94 L461.51 120.88 L461.68 120.83 L461.85 120.77 L462.03 120.72 L462.20 120.66 L462.38 120.61 L462.56 120.56 L462.74 120.51 L462.92 120.46 L463.10 120.42 L463.28 120.37 L463.47 120.33 L463.65 120.28 L463.84 120.24 L464.03 120.20 L464.22 120.16 L464.40 120.12 L464.60 120.08 L464.79 120.05 L464.98 120.01 L465.17 119.98 L465.37 119.95 L465.56 119.91 L465.76 119.88 L465.95 119.86 L466.15 119.83 L466.35 119.80 L466.55 119.78 L466.75 119.75 L466.95 119.73 L467.15 119.71 L467.35 119.69 L467.55 119.67 L467.75 119.66 L467.95 119.64 L468.15 119.63 L468.36 119.62 L468.56 119.60 L468.76 119.59 L468.96 119.59 L469.17 119.58 L469.37 119.57 L469.57 119.57 L469.78 119.56 L469.98 119.56 L470.19 119.56 L470.39 119.56 L470.59 119.57 L470.80 119.57 L471.00 119.57 L471.20 119.58 L471.41 119.59 L471.61 119.60 L471.81 119.61 L472.01 119.62 L472.21 119.63 L472.42 119.65 L472.62 119.66 L472.82 119.68 L473.02 119.70 L473.22 119.72 L473.42 119.74 L473.61 119.76 L473.81 119.78 L474.01 119.81 L474.21 119.83 L474.40 119.86 L474.60 119.89 L474.79 119.92 L474.98 119.95 L475.18 119.99 L475.37 120.02 L475.56 120.06 L475.75 120.09 L475.94 120.13 L476.12 120.17 L476.31 120.21 L476.50 120.25 L476.68 120.30 L476.86 120.34 L477.05 120.39 L477.23 120.43 L477.41 120.48 L477.59 120.53 L477.76 120.58 L477.94 120.63 L478.11 120.69 L478.29 120.74 L478.46 120.80 L478.63 120.85 L478.80 120.91 L478.96 120.97 L479.13 121.03 L479.29 121.09 L479.45 121.15 L479.62 121.21 L479.77 121.28 L479.93 121.34 L480.09 121.41 L480.24 121.48 L480.39 121.55 L480.54 121.62 L480.69 121.69 L480.84 121.76 L480.99 121.83 L481.13 121.91 L481.27 121.98 L481.41 122.06 L481.55 122.13 L481.68 122.21 L481.81 122.29 L481.95 122.37 L482.08 122.45 L482.20 122.53 L482.33 122.61 L482.45 122.70 L482.57 122.78 L482.69 122.87 L482.81 122.95 L482.92 123.04 L483.03 123.13 L483.14 123.21 L483.25 123.30 L483.36 123.39 L483.46 123.48 L483.56 123.57 L483.66 123.67 L483.75 123.76 L483.85 123.85 L483.94 123.94 L484.03 124.04 L484.11 124.13 L484.20 124.23 L484.28 124.33 L484.36 124.42 L484.44 124.52 L484.51 124.62 L484.58 124.72 L484.65 124.81 L484.72 124.91 L484.78 125.01 L484.84 125.11 L484.90 125.21 L484.96 125.32 L485.01 125.42 L485.06 125.52 L485.11 125.62 L485.16 125.72 L485.20 125.83 L485.24 125.93 L485.28 126.03 L485.32 126.14 L485.35 126.24 L485.38 126.34 L485.41 126.45 L485.44 126.55 L485.46 126.66 L485.48 126.76 L485.50 126.87 L485.51 126.97 L485.52 127.08 L485.53 127.18 L485.54 127.29 L485.54 127.39 L485.54 127.50 L485.54 127.50 L485.54 127.61 L485.54 127.71 L485.53 127.82 L485.52 127.92 L485.51 128.03 L485.50 128.13 L485.48 128.24 L485.46 128.34 L485.44 128.45 L485.41 128.55 L485.38 128.66 L485.35 128.76 L485.32 128.86 L485.28 128.97 L485.24 129.07 L485.20 129.17 L485.16 129.28 L485.11 129.38 L485.06 129.48 L485.01 129.58 L484.96 129.68 L484.90 129.79 L484.84 129.89 L484.78 129.99 L484.72 130.09 L484.65 130.19 L484.58 130.28 L484.51 130.38 L484.44 130.48 L484.36 130.58 L484.28 130.67 L484.20 130.77 L484.11 130.87 L484.03 130.96 L483.94 131.06 L483.85 131.15 L483.75 131.24 L483.66 131.33 L483.56 131.43 L483.46 131.52 L483.36 131.61 L483.25 131.70 L483.14 131.79 L483.03 131.87 L482.92 131.96 L482.81 132.05 L482.69 132.13 L482.57 132.22 L482.45 132.30 L482.33 132.39 L482.20 132.47 L482.08 132.55 L481.95 132.63 L481.81 132.71 L481.68 132.79 L481.55 132.87 L481.41 132.94 L481.27 133.02 L481.13 133.09 L480.99 133.17 L480.84 133.24 L480.69 133.31 L480.54 133.38 L480.39 133.45 L480.24 133.52 L480.09 133.59 L479.93 133.66 L479.77 133.72 L479.62 133.79 L479.45 133.85 L479.29 133.91 L479.13 133.97 L478.96 134.03 L478.80 134.09 L478.63 134.15 L478.46 134.20 L478.29 134.26 L478.11 134.31 L477.94 134.37 L477.76 134.42 L477.59 134.47 L477.41 134.52 L477.23 134.57 L477.05 134.61 L476.86 134.66 L476.68 134.70 L476.50 134.75 L476.31 134.79 L476.12 134.83 L475.94 134.87 L475.75 134.91 L475.56 134.94 L475.37 134.98 L475.18 135.01 L474.98 135.05 L474.79 135.08 L474.60 135.11 L474.40 135.14 L474.21 135.17 L474.01 135.19 L473.81 135.22 L473.61 135.24 L473.42 135.26 L473.22 135.28 L473.02 135.30 L472.82 135.32 L472.62 135.34 L472.42 135.35 L472.21 135.37 L472.01 135.38 L471.81 135.39 L471.61 135.40 L471.41 135.41 L471.20 135.42 L471.00 135.43 L470.80 135.43 L470.59 135.43 L470.39 135.44 L470.19 135.44 L469.98 135.44 L469.78 135.44 L469.57 135.43 L469.37 135.43 L469.17 135.42 L468.96 135.41 L468.76 135.41 L468.56 135.40 L468.36 135.38 L468.15 135.37 L467.95 135.36 L467.75 135.34 L467.55 135.33 L467.35 135.31 L467.15 135.29 L466.95 135.27 L466.75 135.25 L466.55 135.22 L466.35 135.20 L466.15 135.17 L465.95 135.14 L465.76 135.12 L465.56 135.09 L465.37 135.05 L465.17 135.02 L464.98 134.99 L464.79 134.95 L464.60 134.92 L464.40 134.88 L464.22 134.84 L464.03 134.80 L463.84 134.76 L463.65 134.72 L463.47 134.67 L463.28 134.63 L463.10 134.58 L462.92 134.54 L462.74 134.49 L462.56 134.44 L462.38 134.39 L462.20 134.34 L462.03 134.28 L461.85 134.23 L461.68 134.17 L461.51 134.12 L461.34 134.06 L461.17 134.00 L461.00 133.94 L460.83 133.88 L460.67 133.82 L460.51 133.75 L460.35 133.69 L460.19 133.63 L460.03 133.56 L459.88 133.49 L459.72 133.42 L459.57 133.35 L459.42 133.28 L459.27 133.21 L459.12 133.14 L458.98 133.07 L458.83 132.99 L458.69 132.92 L458.55 132.84 L458.42 132.77 L458.28 132.69 L458.15 132.61 L458.02 132.53 L457.89 132.45 L457.76 132.37 L457.64 132.29 L457.51 132.21 L457.39 132.12 L457.27 132.04 L457.16 131.96 L457.04 131.87 L456.93 131.78 L456.82 131.70 L456.71 131.61 L456.61 131.52 L456.51 131.43 L456.40 131.34 L456.31 131.25 L456.21 131.16 L456.12 131.07 L456.03 130.98 L455.94 130.88 L455.85 130.79 L455.77 130.70 L455.68 130.60 L455.60 130.51 L455.53 130.41 L455.45 130.32 L455.38 130.22 L455.31 130.12 L455.25 130.03 L455.18 129.93 L455.12 129.83 L455.06 129.73 L455.00 129.63 L454.95 129.53 L454.90 129.43 L454.85 129.33 L454.80 129.23 L454.76 129.13 L454.72 129.03 L454.68 128.93 L454.65 128.83 L454.61 128.73 L454.58 128.63 L454.55 128.52 L454.53 128.42 L454.51 128.32 L454.49 128.22 L454.47 128.12 L454.45 128.01 L454.44 127.91 L454.43 127.81 L454.43 127.71 L454.42 127.60 L454.42 127.50 L454.42 127.50" fill="none" stroke="#ff0000" stroke-width="1.10" stroke-linejoin="round" stroke-linecap="butt" clip-path="url(#c2)" />
<path d="M429.75 127.50 L429.76 127.13 L429.78 126.76 L429.80 126.39 L429.84 126.02 L429.90 125.65 L429.96 125.28 L430.03 124.91 L430.12 124.54 L430.22 124.17 L430.33 123.80 L430.45 123.44 L430.58 123.07 L430.72 122.70 L430.88 122.33 L431.04 121.97 L431.22 121.60 L431.41 121.24 L431.61 120.87 L431.82 120.51 L432.04 120.14 L432.27 119.78 L432.52 119.42 L432.77 119.06 L433.04 118.70 L433.32 118.34 L433.61 117.99 L433.90 117.63 L434.21 117.28 L434.53 116.92 L434.87 116.57 L435.21 116.22 L435.56 115.87 L435.92 115.53 L436.30 115.18 L436.68 114.84 L437.07 114.50 L437.48 114.16 L437.89 113.82 L438.32 113.49 L438.75 113.15 L439.20 112.82 L439.65 112.50 L440.12 112.17 L440.59 111.85 L441.07 111.53 L441.57 111.21 L442.07 110.90 L442.58 110.58 L443.10 110.27 L443.63 109.97 L444.17 109.66 L444.72 109.36 L445.28 109.07 L445.85 108.77 L446.42 108.48 L447.01 108.20 L447.60 107.91 L448.20 107.63 L448.81 107.36 L449.43 107.08 L450.05 106.81 L450.69 106.55 L451.33 106.29 L451.98 106.03 L452.64 105.77 L453.30 105.52 L453.97 105.28 L454.65 105.03 L455.34 104.80 L456.03 104.56 L456.73 104.33 L457.44 104.10 L458.16 103.88 L458.88 103.66 L459.61 103.45 L460.34 103.24 L461.08 103.04 L461.83 102.83 L462.58 102.64 L463.34 102.45 L464.10 102.26 L464.87 102.07 L465.65 101.89 L466.43 101.72 L467.22 101.55 L468.01 101.38 L468.80 101.22 L469.60 101.06 L470.41 100.91 L471.22 100.76 L472.03 100.62 L472.85 100.48 L473.68 100.35 L474.50 100.22 L475.33 100.09 L476.17 99.97 L477.01 99.85 L477.85 99.74 L478.69 99.63 L479.54 99.53 L480.39 99.43 L481.24 99.34 L482.10 99.25 L482.96 99.17 L483.82 99.09 L484.68 99.01 L485.55 98.94 L486.42 98.87 L487.29 98.81 L488.16 98.75 L489.03 98.70 L489.90 98.65 L490.78 98.61 L491.66 98.57 L492.53 98.54 L493.41 98.51 L494.29 98.48 L495.17 98.46 L496.05 98.45 L496.93 98.44 L497.80 98.43 L498.68 98.43 L499.56 98.43 L500.44 98.44 L501.32 98.45 L502.20 98.47 L503.07 98.49 L503.95 98.51 L504.82 98.54 L505.69 98.58 L506.56 98.62 L507.43 98.66 L508.30 98.71 L509.17 98.76 L510.03 98.82 L510.89 98.88 L511.75 98.95 L512.61 99.02 L513.46 99.09 L514.31 99.17 L515.16 99.26 L516.00 99.35 L516.84 99.44 L517.68 99.54 L518.52 99.64 L519.35 99.75 L520.18 99.86 L521.00 99.98 L521.82 100.10 L522.63 100.23 L523.44 100.36 L524.25 100.49 L525.05 100.63 L525.84 100.77 L526.64 100.92 L527.42 101.07 L528.20 101.23 L528.98 101.39 L529.75 101.56 L530.51 101.73 L531.27 101.90 L532.02 102.08 L532.77 102.27 L533.51 102.46 L534.24 102.65 L534.97 102.85 L535.69 103.05 L536.41 103.25 L537.12 103.46 L537.82 103.68 L538.51 103.90 L539.20 104.12 L539.88 104.35 L540.55 104.58 L541.22 104.82 L541.87 105.06 L542.52 105.31 L543.16 105.56 L543.80 105.81 L544.42 106.07 L545.04 106.33 L545.65 106.60 L546.25 106.87 L546.84 107.14 L547.43 107.42 L548.00 107.70 L548.57 107.99 L549.13 108.28 L549.68 108.57 L550.22 108.87 L550.75 109.17 L551.27 109.48 L551.78 109.79 L552.28 110.10 L552.78 110.42 L553.26 110.74 L553.74 111.07 L554.20 111.39 L554.65 111.73 L555.10 112.06 L555.53 112.40 L555.96 112.74 L556.37 113.09 L556.78 113.44 L557.17 113.79 L557.55 114.14 L557.93 114.50 L558.29 114.86 L558.64 115.23 L558.99 115.59 L559.32 115.96 L559.64 116.33 L559.95 116.71 L560.25 117.08 L560.53 117.46 L560.81 117.85 L561.08 118.23 L561.33 118.62 L561.58 119.01 L561.81 119.40 L562.03 119.79 L562.24 120.18 L562.44 120.58 L562.63 120.98 L562.81 121.38 L562.97 121.78 L563.13 122.18 L563.27 122.59 L563.40 122.99 L563.52 123.40 L563.63 123.81 L563.73 124.21 L563.82 124.62 L563.89 125.03 L563.95 125.44 L564.01 125.85 L564.05 126.26 L564.08 126.68 L564.09 127.09 L564.10 127.50 L564.10 127.50 L564.09 127.91 L564.08 128.32 L564.05 128.74 L564.01 129.15 L563.95 129.56 L563.89 129.97 L563.82 130.38 L563.73 130.79 L563.63 131.19 L563.52 131.60 L563.40 132.01 L563.27 132.41 L563.13 132.82 L562.97 133.22 L562.81 133.62 L562.63 134.02 L562.44 134.42 L562.24 134.82 L562.03 135.21 L561.81 135.60 L561.58 135.99 L561.33 136.38 L561.08 136.77 L560.81 137.15 L560.53 137.54 L560.25 137.92 L559.95 138.29 L559.64 138.67 L559.32 139.04 L558.99 139.41 L558.64 139.77 L558.29 140.14 L557.93 140.50 L557.55 140.86 L557.17 141.21 L556.78 141.56 L556.37 141.91 L555.96 142.26 L555.53 142.60 L555.10 142.94 L554.65 143.27 L554.20 143.61 L553.74 143.93 L553.26 144.26 L552.78 144.58 L552.28 144.90 L551.78 145.21 L551.27 145.52 L550.75 145.83 L550.22 146.13 L549.68 146.43 L549.13 146.72 L548.57 147.01 L548.00 147.30 L547.43 147.58 L546.84 147.86 L546.25 148.13 L545.65 148.40 L545.04 148.67 L544.42 148.93 L543.80 149.19 L543.16 149.44 L542.52 149.69 L541.87 149.94 L541.22 150.18 L540.55 150.42 L539.88 150.65 L539.20 150.88 L538.51 151.10 L537.82 151.32 L537.12 151.54 L536.41 151.75 L535.69 151.95 L534.97 152.15 L534.24 152.35 L533.51 152.54 L532.77 152.73 L532.02 152.92 L531.27 153.10 L530.51 153.27 L529.75 153.44 L528.98 153.61 L528.20 153.77 L527.42 153.93 L526.64 154.08 L525.84 154.23 L525.05 154.37 L524.25 154.51 L523.44 154.64 L522.63 154.77 L521.82 154.90 L521.00 155.02 L520.18 155.14 L519.35 155.25 L518.52 155.36 L517.68 155.46 L516.84 155.56 L516.00 155.65 L515.16 155.74 L514.31 155.83 L513.46 155.91 L512.61 155.98 L511.75 156.05 L510.89 156.12 L510.03 156.18 L509.17 156.24 L508.30 156.29 L507.43 156.34 L506.56 156.38 L505.69 156.42 L504.82 156.46 L503.95 156.49 L503.07 156.51 L502.20 156.53 L501.32 156.55 L500.44 156.56 L499.56 156.57 L498.68 156.57 L497.80 156.57 L496.93 156.56 L496.05 156.55 L495.17 156.54 L494.29 156.52 L493.41 156.49 L492.53 156.46 L491.66 156.43 L490.78 156.39 L489.90 156.35 L489.03 156.30 L488.16 156.25 L487.29 156.19 L486.42 156.13 L485.55 156.06 L484.68 155.99 L483.82 155.91 L482.96 155.83 L482.10 155.75 L481.24 155.66 L480.39 155.57 L479.54 155.47 L478.69 155.37 L477.85 155.26 L477.01 155.15 L476.17 155.03 L475.33 154.91 L474.50 154.78 L473.68 154.65 L472.85 154.52 L472.03 154.38 L471.22 154.24 L470.41 154.09 L469.60 153.94 L468.80 153.78 L468.01 153.62 L467.22 153.45 L466.43 153.28 L465.65 153.11 L464.87 152.93 L464.10 152.74 L463.34 152.55 L462.58 152.36 L461.83 152.17 L461.08 151.96 L460.34 151.76 L459.61 151.55 L458.88 151.34 L458.16 151.12 L457.44 150.90 L456.73 150.67 L456.03 150.44 L455.34 150.20 L454.65 149.97 L453.97 149.72 L453.30 149.48 L452.64 149.23 L451.98 148.97 L451.33 148.71 L450.69 148.45 L450.05 148.19 L449.43 147.92 L448.81 147.64 L448.20 147.37 L447.60 147.09 L447.01 146.80 L446.42 146.52 L445.85 146.23 L445.28 145.93 L444.72 145.64 L444.17 145.34 L443.63 145.03 L443.10 144.73 L442.58 144.42 L442.07 144.10 L441.57 143.79 L441.07 143.47 L440.59 143.15 L440.12 142.83 L439.65 142.50 L439.20 142.18 L438.75 141.85 L438.32 141.51 L437.89 141.18 L437.48 140.84 L437.07 140.50 L436.68 140.16 L436.30 139.82 L435.92 139.47 L435.56 139.13 L435.21 138.78 L434.87 138.43 L434.53 138.08 L434.21 137.72 L433.90 137.37 L433.61 137.01 L433.32 136.66 L433.04 136.30 L432.77 135.94 L432.52 135.58 L432.27 135.22 L432.04 134.86 L431.82 134.49 L431.61 134.13 L431.41 133.76 L431.22 133.40 L431.04 133.03 L430.88 132.67 L430.72 132.30 L430.58 131.93 L430.45 131.56 L430.33 131.20 L430.22 130.83 L430.12 130.46 L430.03 130.09 L429.96 129.72 L429.90 129.35 L429.84 128.98 L429.80 128.61 L429.78 128.24 L429.76 127.87 L429.75 127.50 L429.75 127.50" fill="none" stroke="#00ff00" stroke-width="1.10" stroke-linejoin="round" stroke-linecap="butt" clip-path="url(#c2)" />
<path d="M418.96 127.50 L418.97 126.98 L419.00 126.45 L419.06 125.93 L419.13 125.40 L419.22 124.87 L419.34 124.35 L419.48 123.82 L419.64 123.29 L419.82 122.76 L420.02 122.22 L420.24 121.69 L420.48 121.15 L420.74 120.61 L421.03 120.07 L421.33 119.52 L421.66 118.98 L422.01 118.43 L422.37 117.88 L422.76 117.33 L423.17 116.78 L423.60 116.23 L424.05 115.67 L424.51 115.12 L425.00 114.57 L425.51 114.01 L426.04 113.46 L426.59 112.90 L427.16 112.35 L427.75 111.80 L428.36 111.25 L428.99 110.70 L429.64 110.15 L430.30 109.61 L430.99 109.07 L431.69 108.53 L432.42 107.99 L433.16 107.46 L433.92 106.93 L434.70 106.40 L435.50 105.88 L436.32 105.37 L437.16 104.85 L438.01 104.35 L438.88 103.84 L439.77 103.35 L440.68 102.86 L441.60 102.37 L442.54 101.89 L443.50 101.41 L444.48 100.94 L445.47 100.48 L446.48 100.03 L447.50 99.57 L448.55 99.13 L449.60 98.69 L450.68 98.26 L451.77 97.84 L452.87 97.42 L453.99 97.01 L455.13 96.61 L456.28 96.21 L457.44 95.82 L458.62 95.44 L459.82 95.06 L461.02 94.70 L462.25 94.33 L463.48 93.98 L464.73 93.63 L466.00 93.29 L467.27 92.96 L468.56 92.63 L469.86 92.32 L471.17 92.00 L472.50 91.70 L473.84 91.40 L475.19 91.11 L476.55 90.83 L477.92 90.55 L479.31 90.28 L480.70 90.02 L482.11 89.76 L483.52 89.51 L484.95 89.27 L486.38 89.04 L487.83 88.81 L489.28 88.59 L490.74 88.37 L492.22 88.16 L493.70 87.96 L495.19 87.77 L496.68 87.58 L498.19 87.39 L499.70 87.22 L501.22 87.05 L502.75 86.89 L504.28 86.73 L505.82 86.58 L507.37 86.43 L508.92 86.30 L510.48 86.16 L512.05 86.04 L513.62 85.92 L515.19 85.80 L516.77 85.70 L518.35 85.60 L519.94 85.50 L521.53 85.41 L523.12 85.33 L524.72 85.25 L526.32 85.18 L527.93 85.11 L529.53 85.05 L531.14 85.00 L532.75 84.95 L534.37 84.91 L535.98 84.87 L537.59 84.84 L539.21 84.81 L540.82 84.80 L542.44 84.78 L544.06 84.77 L545.67 84.77 L547.29 84.77 L548.90 84.78 L550.52 84.80 L552.13 84.82 L553.74 84.85 L555.35 84.88 L556.95 84.92 L558.56 84.96 L560.16 85.01 L561.76 85.06 L563.35 85.13 L564.94 85.19 L566.53 85.26 L568.11 85.34 L569.69 85.43 L571.27 85.52 L572.84 85.61 L574.40 85.71 L575.96 85.82 L577.51 85.93 L579.06 86.05 L580.60 86.18 L582.13 86.31 L583.66 86.44 L585.18 86.59 L586.69 86.74 L588.20 86.89 L589.70 87.05 L591.18 87.22 L592.67 87.39 L594.14 87.57 L595.60 87.76 L597.06 87.95 L598.50 88.15 L599.94 88.35 L601.36 88.56 L602.78 88.78 L604.18 89.00 L605.58 89.23 L606.96 89.47 L608.33 89.71 L609.69 89.96 L611.04 90.21 L612.38 90.47 L613.71 90.74 L615.02 91.02 L616.32 91.30 L617.61 91.59 L618.89 91.88 L620.15 92.19 L621.40 92.49 L622.64 92.81 L623.86 93.13 L625.07 93.46 L626.26 93.80 L627.44 94.14 L628.60 94.49 L629.76 94.84 L630.89 95.21 L632.01 95.58 L633.12 95.96 L634.21 96.34 L635.28 96.73 L636.34 97.13 L637.38 97.54 L638.40 97.95 L639.41 98.37 L640.40 98.79 L641.38 99.23 L642.34 99.67 L643.28 100.11 L644.20 100.57 L645.11 101.03 L646.00 101.50 L646.87 101.97 L647.73 102.45 L648.56 102.94 L649.38 103.44 L650.18 103.94 L650.96 104.45 L651.72 104.96 L652.46 105.48 L653.19 106.01 L653.89 106.55 L654.58 107.09 L655.25 107.63 L655.89 108.18 L656.52 108.74 L657.13 109.31 L657.72 109.88 L658.29 110.45 L658.84 111.03 L659.37 111.62 L659.88 112.21 L660.37 112.81 L660.84 113.41 L661.29 114.02 L661.71 114.63 L662.12 115.24 L662.51 115.86 L662.88 116.49 L663.22 117.11 L663.55 117.74 L663.85 118.38 L664.14 119.02 L664.40 119.66 L664.64 120.30 L664.87 120.95 L665.07 121.60 L665.25 122.25 L665.40 122.90 L665.54 123.55 L665.66 124.21 L665.75 124.87 L665.83 125.52 L665.88 126.18 L665.91 126.84 L665.92 127.50 L665.92 127.50 L665.91 128.16 L665.88 128.82 L665.83 129.48 L665.75 130.13 L665.66 130.79 L665.54 131.45 L665.40 132.10 L665.25 132.75 L665.07 133.40 L664.87 134.05 L664.64 134.70 L664.40 135.34 L664.14 135.98 L663.85 136.62 L663.55 137.26 L663.22 137.89 L662.88 138.51 L662.51 139.14 L662.12 139.76 L661.71 140.37 L661.29 140.98 L660.84 141.59 L660.37 142.19 L659.88 142.79 L659.37 143.38 L658.84 143.97 L658.29 144.55 L657.72 145.12 L657.13 145.69 L656.52 146.26 L655.89 146.82 L655.25 147.37 L654.58 147.91 L653.89 148.45 L653.19 148.99 L652.46 149.52 L651.72 150.04 L650.96 150.55 L650.18 151.06 L649.38 151.56 L648.56 152.06 L647.73 152.55 L646.87 153.03 L646.00 153.50 L645.11 153.97 L644.20 154.43 L643.28 154.89 L642.34 155.33 L641.38 155.77 L640.40 156.21 L639.41 156.63 L638.40 157.05 L637.38 157.46 L636.34 157.87 L635.28 158.27 L634.21 158.66 L633.12 159.04 L632.01 159.42 L630.89 159.79 L629.76 160.16 L628.60 160.51 L627.44 160.86 L626.26 161.20 L625.07 161.54 L623.86 161.87 L622.64 162.19 L621.40 162.51 L620.15 162.81 L618.89 163.12 L617.61 163.41 L616.32 163.70 L615.02 163.98 L613.71 164.26 L612.38 164.53 L611.04 164.79 L609.69 165.04 L608.33 165.29 L606.96 165.53 L605.58 165.77 L604.18 166.00 L602.78 166.22 L601.36 166.44 L599.94 166.65 L598.50 166.85 L597.06 167.05 L595.60 167.24 L594.14 167.43 L592.67 167.61 L591.18 167.78 L589.70 167.95 L588.20 168.11 L586.69 168.26 L585.18 168.41 L583.66 168.56 L582.13 168.69 L580.60 168.82 L579.06 168.95 L577.51 169.07 L575.96 169.18 L574.40 169.29 L572.84 169.39 L571.27 169.48 L569.69 169.57 L568.11 169.66 L566.53 169.74 L564.94 169.81 L563.35 169.87 L561.76 169.94 L560.16 169.99 L558.56 170.04 L556.95 170.08 L555.35 170.12 L553.74 170.15 L552.13 170.18 L550.52 170.20 L548.90 170.22 L547.29 170.23 L545.67 170.23 L544.06 170.23 L542.44 170.22 L540.82 170.20 L539.21 170.19 L537.59 170.16 L535.98 170.13 L534.37 170.09 L532.75 170.05 L531.14 170.00 L529.53 169.95 L527.93 169.89 L526.32 169.82 L524.72 169.75 L523.12 169.67 L521.53 169.59 L519.94 169.50 L518.35 169.40 L516.77 169.30 L515.19 169.20 L513.62 169.08 L512.05 168.96 L510.48 168.84 L508.92 168.70 L507.37 168.57 L505.82 168.42 L504.28 168.27 L502.75 168.11 L501.22 167.95 L499.70 167.78 L498.19 167.61 L496.68 167.42 L495.19 167.23 L493.70 167.04 L492.22 166.84 L490.74 166.63 L489.28 166.41 L487.83 166.19 L486.38 165.96 L484.95 165.73 L483.52 165.49 L482.11 165.24 L480.70 164.98 L479.31 164.72 L477.92 164.45 L476.55 164.17 L475.19 163.89 L473.84 163.60 L472.50 163.30 L471.17 163.00 L469.86 162.68 L468.56 162.37 L467.27 162.04 L466.00 161.71 L464.73 161.37 L463.48 161.02 L462.25 160.67 L461.02 160.30 L459.82 159.94 L458.62 159.56 L457.44 159.18 L456.28 158.79 L455.13 158.39 L453.99 157.99 L452.87 157.58 L451.77 157.16 L450.68 156.74 L449.60 156.31 L448.55 155.87 L447.50 155.43 L446.48 154.97 L445.47 154.52 L444.48 154.06 L443.50 153.59 L442.54 153.11 L441.60 152.63 L440.68 152.14 L439.77 151.65 L438.88 151.16 L438.01 150.65 L437.16 150.15 L436.32 149.63 L435.50 149.12 L434.70 148.60 L433.92 148.07 L433.16 147.54 L432.42 147.01 L431.69 146.47 L430.99 145.93 L430.30 145.39 L429.64 144.85 L428.99 144.30 L428.36 143.75 L427.75 143.20 L427.16 142.65 L426.59 142.10 L426.04 141.54 L425.51 140.99 L425.00 140.43 L424.51 139.88 L424.05 139.33 L423.60 138.77 L423.17 138.22 L422.76 137.67 L422.37 137.12 L422.01 136.57 L421.66 136.02 L421.33 135.48 L421.03 134.93 L420.74 134.39 L420.48 133.85 L420.24 133.31 L420.02 132.78 L419.82 132.24 L419.64 131.71 L419.48 131.18 L419.34 130.65 L419.22 130.13 L419.13 129.60 L419.06 129.07 L419.00 128.55 L418.97 128.02 L418.96 127.50 L418.96 127.50" fill="none" stroke="#0000ff" stroke-width="1.10" stroke-linejoin="round" stroke-linecap="butt" clip-path="url(#c2)" />
<path d="M404.50 308.85 L404.58 310.19 L404.69 311.95 L404.81 314.06 L404.95 316.43 L405.10 318.99 L405.26 321.64 L405.42 324.32 L405.58 326.95 L405.73 329.43 L405.87 331.70 L406.00 333.66 L406.10 335.25 L406.18 336.49 L406.25 337.49 L406.30 338.28 L406.35 338.89 L406.39 339.37 L406.42 339.75 L406.45 340.06 L406.49 340.33 L406.52 340.60 L406.57 340.90 L406.63 341.28 L406.70 341.75 L406.78 342.29 L406.86 342.82 L406.95 343.35 L407.04 343.89 L407.14 344.42 L407.24 344.95 L407.35 345.48 L407.47 346.01 L407.59 346.55 L407.72 347.08 L407.85 347.61 L408.00 348.15 L408.16 348.70 L408.33 349.26 L408.51 349.83 L408.70 350.41 L408.89 350.98 L409.09 351.56 L409.30 352.12 L409.50 352.67 L409.71 353.21 L409.91 353.72 L410.11 354.20 L410.30 354.65 L410.48 355.07 L410.66 355.47 L410.83 355.84 L411.00 356.19 L411.17 356.53 L411.34 356.84 L411.51 357.15 L411.69 357.44 L411.88 357.73 L412.07 358.01 L412.28 358.28 L412.50 358.55 L412.74 358.82 L412.99 359.08 L413.25 359.34 L413.52 359.58 L413.80 359.82 L414.09 360.05 L414.38 360.27 L414.67 360.47 L414.96 360.66 L415.24 360.84 L415.52 361.00 L415.80 361.15 L416.08 361.28 L416.38 361.38 L416.68 361.47 L416.99 361.55 L417.30 361.61 L417.61 361.66 L417.90 361.70 L418.17 361.74 L418.43 361.77 L418.65 361.80 L418.85 361.82 L419.00 361.85 L420.99 362.15 L422.98 361.83 L424.97 361.36 L426.96 360.79 L428.95 360.16 L430.94 359.50 L432.93 358.83 L434.91 358.15 L436.90 357.47 L438.88 356.81 L440.87 356.17 L442.85 355.54 L444.83 354.93 L446.81 354.34 L448.79 353.78 L450.76 353.23 L452.74 352.71 L454.71 352.20 L456.68 351.72 L458.64 351.26 L460.61 350.81 L462.57 350.39 L464.53 349.98 L466.48 349.60 L468.44 349.22 L470.39 348.87 L472.34 348.53 L474.28 348.21 L476.22 347.90 L478.16 347.60 L480.09 347.32 L482.02 347.05 L483.94 346.80 L485.86 346.56 L487.78 346.32 L489.69 346.10 L491.60 345.90 L493.51 345.70 L495.41 345.51 L497.30 345.33 L499.19 345.17 L501.07 345.01 L502.95 344.86 L504.83 344.72 L506.70 344.59 L508.56 344.46 L510.42 344.35 L512.27 344.24 L514.12 344.14 L515.96 344.05 L517.79 343.97 L519.62 343.89 L521.44 343.82 L523.26 343.76 L525.07 343.70 L526.87 343.66 L528.66 343.61 L530.45 343.58 L532.24 343.55 L534.01 343.52 L535.78 343.51 L537.54 343.50 L539.29 343.49 L541.04 343.49 L542.78 343.50 L544.51 343.51 L546.23 343.53 L547.94 343.55 L549.65 343.58 L551.35 343.62 L553.04 343.66 L554.72 343.70 L556.39 343.75 L558.06 343.81 L559.71 343.87 L561.36 343.94 L563.00 344.01 L564.63 344.09 L566.25 344.17 L567.86 344.26 L569.46 344.35 L571.05 344.45 L572.64 344.55 L574.21 344.66 L575.77 344.78 L577.33 344.90 L578.87 345.02 L580.41 345.15 L581.93 345.29 L583.45 345.43 L584.95 345.57 L586.44 345.72 L587.93 345.88 L589.40 346.04 L590.86 346.20 L592.31 346.38 L593.75 346.55 L595.18 346.74 L596.60 346.92 L598.01 347.12 L599.40 347.32 L600.79 347.52 L602.16 347.73 L603.52 347.94 L604.88 348.16 L606.21 348.39 L607.54 348.62 L608.86 348.86 L610.16 349.10 L611.45 349.35 L612.73 349.61 L614.00 349.87 L615.26 350.13 L616.50 350.41 L617.73 350.69 L618.95 350.97 L620.16 351.26 L621.35 351.56 L622.53 351.86 L623.70 352.17 L624.86 352.49 L626.00 352.81 L627.13 353.14 L628.25 353.47 L629.35 353.81 L630.44 354.16 L631.52 354.51 L632.59 354.87 L633.64 355.24 L634.68 355.62 L635.70 356.00 L636.71 356.39 L637.71 356.78 L638.69 357.18 L639.66 357.59 L640.62 358.01 L641.56 358.43 L642.49 358.86 L643.41 359.30 L644.31 359.74 L645.19 360.20 L646.07 360.66 L646.92 361.12 L647.77 361.60 L648.60 362.08 L649.41 362.57 L650.22 363.06 L651.00 363.57 L651.78 364.08 L652.53 364.60 L653.28 365.13 L654.01 365.66 L654.72 366.20 L655.42 366.75 L656.10 367.31 L656.77 367.87 L657.43 368.44 L658.07 369.02 L658.70 369.61 L659.31 370.20 L659.90 370.81 L660.48 371.41 L661.05 372.03 L661.60 372.65 L662.13 373.28 L662.65 373.92 L663.16 374.57 L663.65 375.22 L664.12 375.88 L664.58 376.54 L665.03 377.21 L665.46 377.89 L665.87 378.58 L666.27 379.27 L666.65 379.96 L667.02 380.66 L667.37 381.37 L667.70 382.09 L668.03 382.80 L668.33 383.53 L668.62 384.26 L668.89 384.99 L669.15 385.73 L669.40 386.47 L669.62 387.22 L669.83 387.97 L670.03 388.72 L670.21 389.48 L670.38 390.24 L670.52 391.00 L670.66 391.77 L670.78 392.53 L670.88 393.30 L670.96 394.08 L671.04 394.85 L671.09 395.62 L671.13 396.40 L671.15 397.17 L671.16 397.95 L671.16 397.95 L671.15 398.73 L671.13 399.50 L671.09 400.28 L671.04 401.05 L670.96 401.82 L670.88 402.60 L670.78 403.37 L670.66 404.13 L670.52 404.90 L670.38 405.66 L670.21 406.42 L670.03 407.18 L669.83 407.93 L669.62 408.68 L669.40 409.43 L669.15 410.17 L668.89 410.91 L668.62 411.64 L668.33 412.37 L668.03 413.10 L667.70 413.81 L667.37 414.53 L667.02 415.24 L666.65 415.94 L666.27 416.63 L665.87 417.32 L665.46 418.01 L665.03 418.69 L664.58 419.36 L664.12 420.02 L663.65 420.68 L663.16 421.33 L662.65 421.98 L662.13 422.62 L661.60 423.25 L661.05 423.87 L660.48 424.49 L659.90 425.09 L659.31 425.70 L658.70 426.29 L658.07 426.88 L657.43 427.46 L656.77 428.03 L656.10 428.59 L655.42 429.15 L654.72 429.70 L654.01 430.24 L653.28 430.77 L652.53 431.30 L651.78 431.82 L651.00 432.33 L650.22 432.84 L649.41 433.33 L648.60 433.82 L647.77 434.30 L646.92 434.78 L646.07 435.24 L645.19 435.70 L644.31 436.16 L643.41 436.60 L642.49 437.04 L641.56 437.47 L640.62 437.89 L639.66 438.31 L638.69 438.72 L637.71 439.12 L636.71 439.51 L635.70 439.90 L634.68 440.28 L633.64 440.66 L632.59 441.03 L631.52 441.39 L630.44 441.74 L629.35 442.09 L628.25 442.43 L627.13 442.76 L626.00 443.09 L624.86 443.41 L623.70 443.73 L622.53 444.04 L621.35 444.34 L620.16 444.64 L618.95 444.93 L617.73 445.21 L616.50 445.49 L615.26 445.77 L614.00 446.03 L612.73 446.29 L611.45 446.55 L610.16 446.80 L608.86 447.04 L607.54 447.28 L606.21 447.51 L604.88 447.74 L603.52 447.96 L602.16 448.17 L600.79 448.38 L599.40 448.58 L598.01 448.78 L596.60 448.98 L595.18 449.16 L593.75 449.35 L592.31 449.52 L590.86 449.70 L589.40 449.86 L587.93 450.02 L586.44 450.18 L584.95 450.33 L583.45 450.47 L581.93 450.61 L580.41 450.75 L578.87 450.88 L577.33 451.00 L575.77 451.12 L574.21 451.24 L572.64 451.35 L571.05 451.45 L569.46 451.55 L567.86 451.64 L566.25 451.73 L564.63 451.81 L563.00 451.89 L561.36 451.96 L559.71 452.03 L558.06 452.09 L556.39 452.15 L554.72 452.20 L553.04 452.24 L551.35 452.28 L549.65 452.32 L547.94 452.35 L546.23 452.37 L544.51 452.39 L542.78 452.40 L541.04 452.41 L539.29 452.41 L537.54 452.40 L535.78 452.39 L534.01 452.38 L532.24 452.35 L530.45 452.32 L528.66 452.29 L526.87 452.24 L525.07 452.20 L523.26 452.14 L521.44 452.08 L519.62 452.01 L517.79 451.93 L515.96 451.85 L514.12 451.76 L512.27 451.66 L510.42 451.55 L508.56 451.44 L506.70 451.31 L504.83 451.18 L502.95 451.04 L501.07 450.89 L499.19 450.73 L497.30 450.57 L495.41 450.39 L493.51 450.20 L491.60 450.00 L489.69 449.80 L487.78 449.58 L485.86 449.34 L483.94 449.10 L482.02 448.85 L480.09 448.58 L478.16 448.30 L476.22 448.00 L474.28 447.69 L472.34 447.37 L470.39 447.03 L468.44 446.68 L466.48 446.30 L464.53 445.92 L462.57 445.51 L460.61 445.09 L458.64 444.64 L456.68 444.18 L454.71 443.70 L452.74 443.19 L450.76 442.67 L448.79 442.12 L446.81 441.56 L444.83 440.97 L442.85 440.36 L440.87 439.73 L438.88 439.09 L436.90 438.43 L434.91 437.75 L432.93 437.07 L430.94 436.40 L428.95 435.74 L426.96 435.11 L424.97 434.54 L422.98 434.07 L420.99 433.75 L419.00 434.05 L418.85 434.08 L418.65 434.10 L418.43 434.13 L418.17 434.16 L417.90 434.20 L417.61 434.24 L417.30 434.29 L416.99 434.35 L416.68 434.43 L416.38 434.52 L416.08 434.62 L415.80 434.75 L415.52 434.90 L415.24 435.06 L414.96 435.24 L414.67 435.43 L414.38 435.63 L414.09 435.85 L413.80 436.08 L413.52 436.32 L413.25 436.56 L412.99 436.82 L412.74 437.08 L412.50 437.35 L412.28 437.62 L412.07 437.89 L411.88 438.17 L411.69 438.46 L411.51 438.75 L411.34 439.06 L411.17 439.37 L411.00 439.71 L410.83 440.06 L410.66 440.43 L410.48 440.83 L410.30 441.25 L410.11 441.70 L409.91 442.18 L409.71 442.69 L409.50 443.23 L409.30 443.78 L409.09 444.34 L408.89 444.92 L408.70 445.49 L408.51 446.07 L408.33 446.64 L408.16 447.20 L408.00 447.75 L407.85 448.29 L407.72 448.82 L407.59 449.35 L407.47 449.89 L407.35 450.42 L407.24 450.95 L407.14 451.48 L407.04 452.01 L406.95 452.55 L406.86 453.08 L406.78 453.61 L406.70 454.15 L406.63 454.62 L406.57 455.00 L406.52 455.30 L406.49 455.57 L406.45 455.84 L406.42 456.15 L406.39 456.53 L406.35 457.01 L406.30 457.62 L406.25 458.41 L406.18 459.41 L406.10 460.65 L406.00 462.24 L405.87 464.20 L405.73 466.47 L405.58 468.95 L405.42 471.58 L405.26 474.26 L405.10 476.91 L404.95 479.47 L404.81 481.84 L404.69 483.95 L404.58 485.71 L404.50 487.05" fill="none" stroke="#ff0000" stroke-width="1.10" stroke-linejoin="round" stroke-linecap="butt" clip-path="url(#c4)" />
<path d="M404.50 310.65 L404.56 311.88 L404.64 313.46 L404.73 315.34 L404.83 317.46 L404.94 319.75 L405.06 322.14 L405.17 324.58 L405.29 327.01 L405.41 329.35 L405.52 331.54 L405.61 333.53 L405.70 335.25 L405.77 336.76 L405.84 338.15 L405.90 339.45 L405.96 340.65 L406.01 341.78 L406.06 342.83 L406.11 343.82 L406.16 344.76 L406.22 345.65 L406.27 346.51 L406.33 347.34 L406.40 348.15 L406.47 348.92 L406.55 349.60 L406.62 350.23 L406.70 350.79 L406.79 351.31 L406.87 351.80 L406.95 352.27 L407.04 352.72 L407.13 353.17 L407.22 353.64 L407.31 354.13 L407.40 354.65 L407.49 355.20 L407.59 355.76 L407.70 356.33 L407.80 356.91 L407.91 357.48 L408.02 358.05 L408.13 358.61 L408.23 359.16 L408.33 359.69 L408.43 360.21 L408.52 360.69 L408.60 361.15 L408.67 361.58 L408.73 361.97 L408.77 362.35 L408.81 362.70 L408.85 363.04 L408.88 363.36 L408.92 363.68 L408.97 363.99 L409.02 364.30 L409.10 364.61 L409.19 364.92 L409.30 365.25 L409.43 365.58 L409.58 365.92 L409.75 366.25 L409.93 366.58 L410.11 366.91 L410.31 367.24 L410.52 367.56 L410.73 367.89 L410.95 368.21 L411.16 368.53 L411.38 368.84 L411.60 369.15 L411.82 369.46 L412.04 369.78 L412.26 370.10 L412.49 370.41 L412.72 370.73 L412.96 371.04 L413.20 371.34 L413.44 371.64 L413.70 371.91 L413.96 372.18 L414.22 372.42 L414.50 372.65 L414.80 372.86 L415.13 373.05 L415.48 373.23 L415.84 373.40 L416.21 373.55 L416.58 373.69 L416.94 373.82 L417.28 373.94 L417.60 374.05 L417.88 374.14 L418.11 374.23 L418.30 374.30 L420.21 374.20 L422.12 373.75 L424.03 373.05 L425.95 372.22 L427.86 371.30 L429.77 370.34 L431.68 369.38 L433.58 368.42 L435.49 367.48 L437.40 366.57 L439.30 365.69 L441.21 364.84 L443.11 364.02 L445.01 363.24 L446.91 362.49 L448.81 361.78 L450.70 361.09 L452.60 360.44 L454.49 359.81 L456.38 359.22 L458.26 358.65 L460.15 358.10 L462.03 357.59 L463.91 357.09 L465.78 356.62 L467.66 356.17 L469.53 355.74 L471.40 355.33 L473.26 354.94 L475.12 354.56 L476.98 354.21 L478.83 353.87 L480.68 353.54 L482.52 353.24 L484.36 352.94 L486.20 352.66 L488.03 352.40 L489.86 352.14 L491.69 351.90 L493.51 351.68 L495.32 351.46 L497.13 351.26 L498.94 351.06 L500.74 350.88 L502.53 350.71 L504.32 350.54 L506.11 350.39 L507.89 350.25 L509.66 350.11 L511.43 349.99 L513.19 349.87 L514.94 349.76 L516.69 349.66 L518.44 349.57 L520.18 349.49 L521.91 349.41 L523.63 349.34 L525.35 349.28 L527.06 349.22 L528.77 349.18 L530.46 349.14 L532.16 349.10 L533.84 349.07 L535.52 349.05 L537.18 349.04 L538.85 349.03 L540.50 349.03 L542.15 349.04 L543.79 349.05 L545.42 349.06 L547.04 349.09 L548.66 349.11 L550.26 349.15 L551.86 349.19 L553.45 349.24 L555.04 349.29 L556.61 349.34 L558.17 349.41 L559.73 349.48 L561.28 349.55 L562.82 349.63 L564.35 349.72 L565.87 349.81 L567.38 349.90 L568.88 350.00 L570.37 350.11 L571.86 350.22 L573.33 350.34 L574.79 350.46 L576.25 350.59 L577.69 350.72 L579.13 350.86 L580.55 351.01 L581.97 351.16 L583.37 351.31 L584.76 351.47 L586.15 351.64 L587.52 351.81 L588.88 351.98 L590.23 352.17 L591.58 352.35 L592.91 352.54 L594.23 352.74 L595.53 352.94 L596.83 353.15 L598.12 353.37 L599.39 353.59 L600.66 353.81 L601.91 354.04 L603.15 354.28 L604.38 354.52 L605.60 354.77 L606.80 355.02 L608.00 355.28 L609.18 355.54 L610.35 355.81 L611.51 356.08 L612.66 356.36 L613.79 356.65 L614.91 356.94 L616.02 357.24 L617.12 357.55 L618.21 357.85 L619.28 358.17 L620.34 358.49 L621.39 358.82 L622.43 359.15 L623.45 359.49 L624.46 359.84 L625.45 360.19 L626.44 360.55 L627.41 360.91 L628.37 361.28 L629.31 361.65 L630.24 362.04 L631.16 362.42 L632.07 362.82 L632.96 363.22 L633.84 363.62 L634.70 364.04 L635.56 364.46 L636.39 364.88 L637.22 365.31 L638.03 365.75 L638.83 366.19 L639.61 366.64 L640.38 367.10 L641.14 367.56 L641.88 368.03 L642.61 368.50 L643.32 368.99 L644.02 369.47 L644.71 369.97 L645.38 370.47 L646.04 370.97 L646.68 371.48 L647.31 372.00 L647.92 372.52 L648.53 373.05 L649.11 373.59 L649.68 374.13 L650.24 374.68 L650.79 375.23 L651.31 375.79 L651.83 376.35 L652.33 376.92 L652.81 377.49 L653.28 378.07 L653.74 378.66 L654.18 379.25 L654.61 379.84 L655.02 380.44 L655.42 381.05 L655.80 381.66 L656.17 382.27 L656.52 382.89 L656.86 383.51 L657.18 384.14 L657.49 384.77 L657.78 385.41 L658.06 386.04 L658.32 386.69 L658.57 387.33 L658.80 387.98 L659.02 388.63 L659.22 389.28 L659.41 389.94 L659.59 390.60 L659.74 391.26 L659.89 391.92 L660.02 392.59 L660.13 393.25 L660.23 393.92 L660.31 394.59 L660.38 395.26 L660.43 395.93 L660.47 396.61 L660.49 397.28 L660.50 397.95 L660.50 397.95 L660.49 398.62 L660.47 399.29 L660.43 399.97 L660.38 400.64 L660.31 401.31 L660.23 401.98 L660.13 402.65 L660.02 403.31 L659.89 403.98 L659.74 404.64 L659.59 405.30 L659.41 405.96 L659.22 406.62 L659.02 407.27 L658.80 407.92 L658.57 408.57 L658.32 409.21 L658.06 409.86 L657.78 410.49 L657.49 411.13 L657.18 411.76 L656.86 412.39 L656.52 413.01 L656.17 413.63 L655.80 414.24 L655.42 414.85 L655.02 415.46 L654.61 416.06 L654.18 416.65 L653.74 417.24 L653.28 417.83 L652.81 418.41 L652.33 418.98 L651.83 419.55 L651.31 420.11 L650.79 420.67 L650.24 421.22 L649.68 421.77 L649.11 422.31 L648.53 422.85 L647.92 423.38 L647.31 423.90 L646.68 424.42 L646.04 424.93 L645.38 425.43 L644.71 425.93 L644.02 426.43 L643.32 426.91 L642.61 427.40 L641.88 427.87 L641.14 428.34 L640.38 428.80 L639.61 429.26 L638.83 429.71 L638.03 430.15 L637.22 430.59 L636.39 431.02 L635.56 431.44 L634.70 431.86 L633.84 432.28 L632.96 432.68 L632.07 433.08 L631.16 433.48 L630.24 433.86 L629.31 434.25 L628.37 434.62 L627.41 434.99 L626.44 435.35 L625.45 435.71 L624.46 436.06 L623.45 436.41 L622.43 436.75 L621.39 437.08 L620.34 437.41 L619.28 437.73 L618.21 438.05 L617.12 438.35 L616.02 438.66 L614.91 438.96 L613.79 439.25 L612.66 439.54 L611.51 439.82 L610.35 440.09 L609.18 440.36 L608.00 440.62 L606.80 440.88 L605.60 441.13 L604.38 441.38 L603.15 441.62 L601.91 441.86 L600.66 442.09 L599.39 442.31 L598.12 442.53 L596.83 442.75 L595.53 442.96 L594.23 443.16 L592.91 443.36 L591.58 443.55 L590.23 443.73 L588.88 443.92 L587.52 444.09 L586.15 444.26 L584.76 444.43 L583.37 444.59 L581.97 444.74 L580.55 444.89 L579.13 445.04 L577.69 445.18 L576.25 445.31 L574.79 445.44 L573.33 445.56 L571.86 445.68 L570.37 445.79 L568.88 445.90 L567.38 446.00 L565.87 446.09 L564.35 446.18 L562.82 446.27 L561.28 446.35 L559.73 446.42 L558.17 446.49 L556.61 446.56 L555.04 446.61 L553.45 446.66 L551.86 446.71 L550.26 446.75 L548.66 446.79 L547.04 446.81 L545.42 446.84 L543.79 446.85 L542.15 446.86 L540.50 446.87 L538.85 446.87 L537.18 446.86 L535.52 446.85 L533.84 446.83 L532.16 446.80 L530.46 446.76 L528.77 446.72 L527.06 446.68 L525.35 446.62 L523.63 446.56 L521.91 446.49 L520.18 446.41 L518.44 446.33 L516.69 446.24 L514.94 446.14 L513.19 446.03 L511.43 445.91 L509.66 445.79 L507.89 445.65 L506.11 445.51 L504.32 445.36 L502.53 445.19 L500.74 445.02 L498.94 444.84 L497.13 444.64 L495.32 444.44 L493.51 444.22 L491.69 444.00 L489.86 443.76 L488.03 443.50 L486.20 443.24 L484.36 442.96 L482.52 442.66 L480.68 442.36 L478.83 442.03 L476.98 441.69 L475.12 441.34 L473.26 440.96 L471.40 440.57 L469.53 440.16 L467.66 439.73 L465.78 439.28 L463.91 438.81 L462.03 438.31 L460.15 437.80 L458.26 437.25 L456.38 436.68 L454.49 436.09 L452.60 435.46 L450.70 434.81 L448.81 434.12 L446.91 433.41 L445.01 432.66 L443.11 431.88 L441.21 431.06 L439.30 430.21 L437.40 429.33 L435.49 428.42 L433.58 427.48 L431.68 426.52 L429.77 425.56 L427.86 424.60 L425.95 423.68 L424.03 422.85 L422.12 422.15 L420.21 421.70 L418.30 421.60 L418.11 421.67 L417.88 421.76 L417.60 421.85 L417.28 421.96 L416.94 422.08 L416.58 422.21 L416.21 422.35 L415.84 422.50 L415.48 422.67 L415.13 422.85 L414.80 423.04 L414.50 423.25 L414.22 423.48 L413.96 423.72 L413.70 423.99 L413.44 424.26 L413.20 424.56 L412.96 424.86 L412.72 425.17 L412.49 425.49 L412.26 425.80 L412.04 426.12 L411.82 426.44 L411.60 426.75 L411.38 427.06 L411.16 427.37 L410.95 427.69 L410.73 428.01 L410.52 428.34 L410.31 428.66 L410.11 428.99 L409.93 429.32 L409.75 429.65 L409.58 429.98 L409.43 430.32 L409.30 430.65 L409.19 430.98 L409.10 431.29 L409.02 431.60 L408.97 431.91 L408.92 432.22 L408.88 432.54 L408.85 432.86 L408.81 433.20 L408.77 433.55 L408.73 433.93 L408.67 434.32 L408.60 434.75 L408.52 435.21 L408.43 435.69 L408.33 436.21 L408.23 436.74 L408.13 437.29 L408.02 437.85 L407.91 438.42 L407.80 438.99 L407.70 439.57 L407.59 440.14 L407.49 440.70 L407.40 441.25 L407.31 441.77 L407.22 442.26 L407.13 442.73 L407.04 443.18 L406.95 443.63 L406.87 444.10 L406.79 444.59 L406.70 445.11 L406.62 445.67 L406.55 446.30 L406.47 446.98 L406.40 447.75 L406.33 448.56 L406.27 449.39 L406.22 450.25 L406.16 451.14 L406.11 452.08 L406.06 453.07 L406.01 454.12 L405.96 455.25 L405.90 456.45 L405.84 457.75 L405.77 459.14 L405.70 460.65 L405.61 462.37 L405.52 464.36 L405.41 466.55 L405.29 468.89 L405.17 471.32 L405.06 473.76 L404.94 476.15 L404.83 478.44 L404.73 480.56 L404.64 482.44 L404.56 484.02 L404.50 485.25" fill="none" stroke="#00ff00" stroke-width="1.10" stroke-linejoin="round" stroke-linecap="butt" clip-path="url(#c4)" />
<path d="M404.45 312.55 L404.49 313.68 L404.53 315.13 L404.59 316.86 L404.65 318.80 L404.71 320.90 L404.78 323.09 L404.85 325.34 L404.92 327.57 L404.99 329.73 L405.06 331.77 L405.13 333.63 L405.19 335.25 L405.25 336.67 L405.30 337.97 L405.35 339.16 L405.41 340.27 L405.46 341.31 L405.51 342.31 L405.56 343.26 L405.61 344.21 L405.66 345.15 L405.72 346.11 L405.77 347.10 L405.83 348.15 L405.89 349.26 L405.95 350.41 L406.01 351.60 L406.07 352.81 L406.13 354.01 L406.20 355.20 L406.26 356.36 L406.32 357.47 L406.39 358.52 L406.45 359.50 L406.51 360.38 L406.57 361.15 L406.62 361.79 L406.67 362.28 L406.72 362.67 L406.77 362.97 L406.82 363.21 L406.87 363.41 L406.92 363.60 L406.97 363.80 L407.02 364.04 L407.08 364.35 L407.14 364.74 L407.21 365.25 L407.28 365.87 L407.35 366.58 L407.43 367.36 L407.51 368.19 L407.59 369.06 L407.68 369.95 L407.77 370.85 L407.86 371.75 L407.95 372.62 L408.05 373.45 L408.15 374.24 L408.24 374.95 L408.35 375.60 L408.45 376.22 L408.56 376.80 L408.67 377.36 L408.78 377.89 L408.90 378.41 L409.01 378.91 L409.13 379.41 L409.24 379.91 L409.36 380.41 L409.47 380.92 L409.58 381.45 L409.70 381.99 L409.81 382.52 L409.93 383.05 L410.06 383.59 L410.18 384.12 L410.30 384.65 L410.41 385.18 L410.53 385.71 L410.64 386.25 L410.74 386.78 L410.84 387.31 L410.92 387.85 L411.00 388.40 L411.07 388.96 L411.14 389.54 L411.19 390.12 L411.25 390.70 L411.30 391.28 L411.34 391.85 L411.39 392.40 L411.43 392.93 L411.47 393.44 L411.52 393.91 L411.56 394.35 L411.61 394.76 L411.65 395.15 L411.70 395.52 L411.74 395.87 L411.78 396.20 L411.82 396.51 L411.86 396.79 L411.89 397.05 L411.93 397.29 L411.95 397.50 L411.98 397.69 L412.00 397.85 L412.00 398.05 L411.98 398.21 L411.95 398.40 L411.93 398.61 L411.89 398.85 L411.86 399.11 L411.82 399.39 L411.78 399.70 L411.74 400.03 L411.70 400.38 L411.65 400.75 L411.61 401.14 L411.56 401.55 L411.52 401.99 L411.47 402.46 L411.43 402.97 L411.39 403.50 L411.34 404.05 L411.30 404.62 L411.25 405.20 L411.19 405.78 L411.14 406.36 L411.07 406.94 L411.00 407.50 L410.92 408.05 L410.84 408.59 L410.74 409.12 L410.64 409.65 L410.53 410.19 L410.41 410.72 L410.30 411.25 L410.18 411.78 L410.06 412.31 L409.93 412.85 L409.81 413.38 L409.70 413.91 L409.58 414.45 L409.47 414.98 L409.36 415.49 L409.24 415.99 L409.13 416.49 L409.01 416.99 L408.90 417.49 L408.78 418.01 L408.67 418.54 L408.56 419.10 L408.45 419.68 L408.35 420.30 L408.24 420.95 L408.15 421.66 L408.05 422.45 L407.95 423.28 L407.86 424.15 L407.77 425.05 L407.68 425.95 L407.59 426.84 L407.51 427.71 L407.43 428.54 L407.35 429.32 L407.28 430.03 L407.21 430.65 L407.14 431.16 L407.08 431.55 L407.02 431.86 L406.97 432.10 L406.92 432.30 L406.87 432.49 L406.82 432.69 L406.77 432.93 L406.72 433.23 L406.67 433.62 L406.62 434.11 L406.57 434.75 L406.51 435.52 L406.45 436.40 L406.39 437.38 L406.32 438.43 L406.26 439.54 L406.20 440.70 L406.13 441.89 L406.07 443.09 L406.01 444.30 L405.95 445.49 L405.89 446.64 L405.83 447.75 L405.77 448.80 L405.72 449.79 L405.66 450.75 L405.61 451.69 L405.56 452.64 L405.51 453.59 L405.46 454.59 L405.41 455.63 L405.35 456.74 L405.30 457.93 L405.25 459.23 L405.19 460.65 L405.13 462.27 L405.06 464.13 L404.99 466.17 L404.92 468.33 L404.85 470.56 L404.78 472.81 L404.71 475.00 L404.65 477.10 L404.59 479.04 L404.53 480.77 L404.49 482.22 L404.45 483.35" fill="none" stroke="#0000ff" stroke-width="1.10" stroke-linejoin="round" stroke-linecap="butt" clip-path="url(#c4)" />
<path d="M427.26 397.95 L427.27 397.43 L427.29 396.90 L427.34 396.37 L427.41 395.85 L427.49 395.32 L427.60 394.79 L427.72 394.26 L427.86 393.73 L428.02 393.20 L428.20 392.66 L428.40 392.13 L428.61 391.59 L428.85 391.05 L429.10 390.51 L429.38 389.96 L429.67 389.42 L429.98 388.87 L430.30 388.32 L430.65 387.77 L431.01 387.22 L431.40 386.66 L431.80 386.11 L432.22 385.55 L432.65 385.00 L433.11 384.44 L433.58 383.89 L434.07 383.33 L434.58 382.78 L435.11 382.23 L435.65 381.68 L436.21 381.13 L436.79 380.58 L437.38 380.03 L438.00 379.49 L438.63 378.95 L439.27 378.42 L439.94 377.88 L440.62 377.35 L441.31 376.83 L442.03 376.30 L442.76 375.79 L443.50 375.27 L444.27 374.77 L445.04 374.26 L445.84 373.76 L446.65 373.27 L447.47 372.78 L448.31 372.30 L449.17 371.83 L450.04 371.36 L450.93 370.89 L451.83 370.44 L452.74 369.99 L453.67 369.54 L454.62 369.10 L455.58 368.67 L456.55 368.25 L457.53 367.83 L458.54 367.42 L459.55 367.02 L460.58 366.62 L461.62 366.23 L462.67 365.85 L463.74 365.47 L464.81 365.10 L465.91 364.74 L467.01 364.38 L468.12 364.04 L469.25 363.70 L470.39 363.36 L471.54 363.04 L472.70 362.72 L473.88 362.40 L475.06 362.10 L476.26 361.80 L477.46 361.51 L478.68 361.23 L479.90 360.95 L481.14 360.68 L482.38 360.42 L483.64 360.16 L484.90 359.91 L486.17 359.67 L487.46 359.43 L488.75 359.20 L490.04 358.98 L491.35 358.77 L492.66 358.56 L493.99 358.36 L495.32 358.16 L496.65 357.97 L498.00 357.79 L499.35 357.61 L500.71 357.44 L502.07 357.28 L503.44 357.12 L504.81 356.97 L506.19 356.83 L507.58 356.69 L508.97 356.56 L510.37 356.43 L511.77 356.31 L513.18 356.20 L514.59 356.09 L516.00 355.99 L517.42 355.89 L518.84 355.80 L520.26 355.72 L521.69 355.64 L523.12 355.57 L524.55 355.50 L525.98 355.44 L527.42 355.39 L528.86 355.34 L530.30 355.30 L531.74 355.26 L533.18 355.23 L534.62 355.21 L536.06 355.19 L537.51 355.17 L538.95 355.17 L540.39 355.16 L541.84 355.17 L543.28 355.18 L544.72 355.19 L546.16 355.21 L547.60 355.24 L549.03 355.27 L550.47 355.31 L551.90 355.35 L553.33 355.40 L554.75 355.46 L556.18 355.52 L557.60 355.58 L559.02 355.66 L560.43 355.73 L561.84 355.82 L563.25 355.91 L564.65 356.00 L566.04 356.11 L567.43 356.21 L568.82 356.33 L570.20 356.45 L571.58 356.57 L572.95 356.70 L574.31 356.84 L575.67 356.98 L577.02 357.13 L578.36 357.29 L579.70 357.45 L581.03 357.61 L582.35 357.79 L583.67 357.97 L584.97 358.15 L586.27 358.34 L587.56 358.54 L588.84 358.75 L590.11 358.96 L591.38 359.17 L592.63 359.40 L593.88 359.63 L595.11 359.86 L596.34 360.11 L597.55 360.36 L598.76 360.61 L599.95 360.87 L601.14 361.14 L602.31 361.42 L603.47 361.70 L604.62 361.99 L605.76 362.28 L606.89 362.59 L608.01 362.90 L609.11 363.21 L610.20 363.53 L611.28 363.86 L612.35 364.20 L613.40 364.54 L614.44 364.89 L615.47 365.25 L616.48 365.61 L617.48 365.99 L618.47 366.36 L619.44 366.75 L620.40 367.14 L621.34 367.54 L622.27 367.94 L623.19 368.36 L624.09 368.78 L624.98 369.20 L625.85 369.64 L626.70 370.08 L627.54 370.53 L628.37 370.98 L629.18 371.44 L629.97 371.91 L630.75 372.39 L631.51 372.87 L632.26 373.36 L632.99 373.85 L633.70 374.36 L634.40 374.87 L635.08 375.38 L635.74 375.90 L636.39 376.43 L637.02 376.97 L637.63 377.51 L638.23 378.05 L638.80 378.61 L639.37 379.17 L639.91 379.73 L640.44 380.30 L640.94 380.88 L641.43 381.46 L641.91 382.05 L642.36 382.64 L642.80 383.24 L643.22 383.84 L643.62 384.45 L644.00 385.06 L644.37 385.68 L644.71 386.30 L645.04 386.92 L645.35 387.55 L645.64 388.18 L645.91 388.82 L646.17 389.45 L646.40 390.10 L646.62 390.74 L646.82 391.39 L646.99 392.04 L647.15 392.69 L647.30 393.34 L647.42 394.00 L647.52 394.65 L647.61 395.31 L647.67 395.97 L647.72 396.63 L647.75 397.29 L647.76 397.95 L647.76 397.95 L647.75 398.61 L647.72 399.27 L647.67 399.93 L647.61 400.59 L647.52 401.25 L647.42 401.90 L647.30 402.56 L647.15 403.21 L646.99 403.86 L646.82 404.51 L646.62 405.16 L646.40 405.80 L646.17 406.45 L645.91 407.08 L645.64 407.72 L645.35 408.35 L645.04 408.98 L644.71 409.60 L644.37 410.22 L644.00 410.84 L643.62 411.45 L643.22 412.06 L642.80 412.66 L642.36 413.26 L641.91 413.85 L641.43 414.44 L640.94 415.02 L640.44 415.60 L639.91 416.17 L639.37 416.73 L638.80 417.29 L638.23 417.85 L637.63 418.39 L637.02 418.93 L636.39 419.47 L635.74 420.00 L635.08 420.52 L634.40 421.03 L633.70 421.54 L632.99 422.05 L632.26 422.54 L631.51 423.03 L630.75 423.51 L629.97 423.99 L629.18 424.46 L628.37 424.92 L627.54 425.37 L626.70 425.82 L625.85 426.26 L624.98 426.70 L624.09 427.12 L623.19 427.54 L622.27 427.96 L621.34 428.36 L620.40 428.76 L619.44 429.15 L618.47 429.54 L617.48 429.91 L616.48 430.29 L615.47 430.65 L614.44 431.01 L613.40 431.36 L612.35 431.70 L611.28 432.04 L610.20 432.37 L609.11 432.69 L608.01 433.00 L606.89 433.31 L605.76 433.62 L604.62 433.91 L603.47 434.20 L602.31 434.48 L601.14 434.76 L599.95 435.03 L598.76 435.29 L597.55 435.54 L596.34 435.79 L595.11 436.04 L593.88 436.27 L592.63 436.50 L591.38 436.73 L590.11 436.94 L588.84 437.15 L587.56 437.36 L586.27 437.56 L584.97 437.75 L583.67 437.93 L582.35 438.11 L581.03 438.29 L579.70 438.45 L578.36 438.61 L577.02 438.77 L575.67 438.92 L574.31 439.06 L572.95 439.20 L571.58 439.33 L570.20 439.45 L568.82 439.57 L567.43 439.69 L566.04 439.79 L564.65 439.90 L563.25 439.99 L561.84 440.08 L560.43 440.17 L559.02 440.24 L557.60 440.32 L556.18 440.38 L554.75 440.44 L553.33 440.50 L551.90 440.55 L550.47 440.59 L549.03 440.63 L547.60 440.66 L546.16 440.69 L544.72 440.71 L543.28 440.72 L541.84 440.73 L540.39 440.74 L538.95 440.73 L537.51 440.73 L536.06 440.71 L534.62 440.69 L533.18 440.67 L531.74 440.64 L530.30 440.60 L528.86 440.56 L527.42 440.51 L525.98 440.46 L524.55 440.40 L523.12 440.33 L521.69 440.26 L520.26 440.18 L518.84 440.10 L517.42 440.01 L516.00 439.91 L514.59 439.81 L513.18 439.70 L511.77 439.59 L510.37 439.47 L508.97 439.34 L507.58 439.21 L506.19 439.07 L504.81 438.93 L503.44 438.78 L502.07 438.62 L500.71 438.46 L499.35 438.29 L498.00 438.11 L496.65 437.93 L495.32 437.74 L493.99 437.54 L492.66 437.34 L491.35 437.13 L490.04 436.92 L488.75 436.70 L487.46 436.47 L486.17 436.23 L484.90 435.99 L483.64 435.74 L482.38 435.48 L481.14 435.22 L479.90 434.95 L478.68 434.67 L477.46 434.39 L476.26 434.10 L475.06 433.80 L473.88 433.50 L472.70 433.18 L471.54 432.86 L470.39 432.54 L469.25 432.20 L468.12 431.86 L467.01 431.52 L465.91 431.16 L464.81 430.80 L463.74 430.43 L462.67 430.05 L461.62 429.67 L460.58 429.28 L459.55 428.88 L458.54 428.48 L457.53 428.07 L456.55 427.65 L455.58 427.23 L454.62 426.80 L453.67 426.36 L452.74 425.91 L451.83 425.46 L450.93 425.01 L450.04 424.54 L449.17 424.07 L448.31 423.60 L447.47 423.12 L446.65 422.63 L445.84 422.14 L445.04 421.64 L444.27 421.13 L443.50 420.63 L442.76 420.11 L442.03 419.60 L441.31 419.07 L440.62 418.55 L439.94 418.02 L439.27 417.48 L438.63 416.95 L438.00 416.41 L437.38 415.87 L436.79 415.32 L436.21 414.77 L435.65 414.22 L435.11 413.67 L434.58 413.12 L434.07 412.57 L433.58 412.01 L433.11 411.46 L432.65 410.90 L432.22 410.35 L431.80 409.79 L431.40 409.24 L431.01 408.68 L430.65 408.13 L430.30 407.58 L429.98 407.03 L429.67 406.48 L429.38 405.94 L429.10 405.39 L428.85 404.85 L428.61 404.31 L428.40 403.77 L428.20 403.24 L428.02 402.70 L427.86 402.17 L427.72 401.64 L427.60 401.11 L427.49 400.58 L427.41 400.05 L427.34 399.53 L427.29 399.00 L427.27 398.47 L427.26 397.95 L427.26 397.95" fill="none" stroke="#0000ff" stroke-width="1.10" stroke-linejoin="round" stroke-linecap="butt" clip-path="url(#c4)" />
<path d="M57.79 236.80L57.79 235.40M57.79 18.20L57.79 19.60M68.37 236.80L68.37 235.40M68.37 18.20L68.37 19.60M89.54 236.80L89.54 235.40M89.54 18.20L89.54 19.60M100.12 236.80L100.12 235.40M100.12 18.20L100.12 19.60M110.70 236.80L110.70 235.40M110.70 18.20L110.70 19.60M121.28 236.80L121.28 235.40M121.28 18.20L121.28 19.60M142.45 236.80L142.45 235.40M142.45 18.20L142.45 19.60M153.03 236.80L153.03 235.40M153.03 18.20L153.03 19.60M163.61 236.80L163.61 235.40M163.61 18.20L163.61 19.60M174.19 236.80L174.19 235.40M174.19 18.20L174.19 19.60M195.35 236.80L195.35 235.40M195.35 18.20L195.35 19.60M205.94 236.80L205.94 235.40M205.94 18.20L205.94 19.60M216.52 236.80L216.52 235.40M216.52 18.20L216.52 19.60M227.10 236.80L227.10 235.40M227.10 18.20L227.10 19.60M248.26 236.80L248.26 235.40M248.26 18.20L248.26 19.60M258.85 236.80L258.85 235.40M258.85 18.20L258.85 19.60M269.43 236.80L269.43 235.40M269.43 18.20L269.43 19.60M280.01 236.80L280.01 235.40M280.01 18.20L280.01 19.60M301.17 236.80L301.17 235.40M301.17 18.20L301.17 19.60M311.75 236.80L311.75 235.40M311.75 18.20L311.75 19.60M322.34 236.80L322.34 235.40M322.34 18.20L322.34 19.60M332.92 236.80L332.92 235.40M332.92 18.20L332.92 19.60M78.95 236.80L78.95 234.50M78.95 18.20L78.95 20.50M131.86 236.80L131.86 234.50M131.86 18.20L131.86 20.50M184.77 236.80L184.77 234.50M184.77 18.20L184.77 20.50M237.68 236.80L237.68 234.50M237.68 18.20L237.68 20.50M290.59 236.80L290.59 234.50M290.59 18.20L290.59 20.50M343.50 236.80L343.50 234.50M343.50 18.20L343.50 20.50M52.50 226.60L53.90 226.60M343.50 226.60L342.10 226.60M52.50 205.78L53.90 205.78M343.50 205.78L342.10 205.78M52.50 195.37L53.90 195.37M343.50 195.37L342.10 195.37M52.50 184.96L53.90 184.96M343.50 184.96L342.10 184.96M52.50 164.14L53.90 164.14M343.50 164.14L342.10 164.14M52.50 153.73L53.90 153.73M343.50 153.73L342.10 153.73M52.50 143.32L53.90 143.32M343.50 143.32L342.10 143.32M52.50 122.50L53.90 122.50M343.50 122.50L342.10 122.50M52.50 112.09L53.90 112.09M343.50 112.09L342.10 112.09M52.50 101.68L53.90 101.68M343.50 101.68L342.10 101.68M52.50 80.87L53.90 80.87M343.50 80.87L342.10 80.87M52.50 70.46L53.90 70.46M343.50 70.46L342.10 70.46M52.50 60.05L53.90 60.05M343.50 60.05L342.10 60.05M52.50 39.23L53.90 39.23M343.50 39.23L342.10 39.23M52.50 28.82L53.90 28.82M343.50 28.82L342.10 28.82M52.50 216.19L54.80 216.19M343.50 216.19L341.20 216.19M52.50 174.55L54.80 174.55M343.50 174.55L341.20 174.55M52.50 132.91L54.80 132.91M343.50 132.91L341.20 132.91M52.50 91.27L54.80 91.27M343.50 91.27L341.20 91.27M52.50 49.64L54.80 49.64M343.50 49.64L341.20 49.64" stroke="#000" stroke-width="0.75" fill="none"/>
<rect x="52.50" y="18.20" width="291.00" height="218.60" fill="none" stroke="#000" stroke-width="1.15"/>
<text transform="translate(79.25 249.40) scale(0.91 1)" text-anchor="middle" font-size="13.2">5</text>
<text transform="translate(132.16 249.40) scale(0.91 1)" text-anchor="middle" font-size="13.2">10</text>
<text transform="translate(185.07 249.40) scale(0.91 1)" text-anchor="middle" font-size="13.2">15</text>
<text transform="translate(237.98 249.40) scale(0.91 1)" text-anchor="middle" font-size="13.2">20</text>
<text transform="translate(290.89 249.40) scale(0.91 1)" text-anchor="middle" font-size="13.2">25</text>
<text transform="translate(343.80 249.40) scale(0.91 1)" text-anchor="middle" font-size="13.2">30</text>
<text transform="translate(50.80 220.44) scale(0.91 1)" text-anchor="end" font-size="13.2">−0.04</text>
<text transform="translate(50.80 178.80) scale(0.91 1)" text-anchor="end" font-size="13.2">−0.02</text>
<text transform="translate(50.80 137.16) scale(0.91 1)" text-anchor="end" font-size="13.2">0.00</text>
<text transform="translate(50.80 95.52) scale(0.91 1)" text-anchor="end" font-size="13.2">0.02</text>
<text transform="translate(50.80 53.89) scale(0.91 1)" text-anchor="end" font-size="13.2">0.04</text>
<text x="198.50" y="266.10" text-anchor="middle" font-size="12.8">r/M</text>
<path d="M403.29 236.80L403.29 235.40M403.29 18.20L403.29 19.60M414.46 236.80L414.46 235.40M414.46 18.20L414.46 19.60M436.81 236.80L436.81 235.40M436.81 18.20L436.81 19.60M447.98 236.80L447.98 235.40M447.98 18.20L447.98 19.60M459.15 236.80L459.15 235.40M459.15 18.20L459.15 19.60M470.32 236.80L470.32 235.40M470.32 18.20L470.32 19.60M492.67 236.80L492.67 235.40M492.67 18.20L492.67 19.60M503.84 236.80L503.84 235.40M503.84 18.20L503.84 19.60M515.02 236.80L515.02 235.40M515.02 18.20L515.02 19.60M526.19 236.80L526.19 235.40M526.19 18.20L526.19 19.60M548.54 236.80L548.54 235.40M548.54 18.20L548.54 19.60M559.71 236.80L559.71 235.40M559.71 18.20L559.71 19.60M570.88 236.80L570.88 235.40M570.88 18.20L570.88 19.60M582.06 236.80L582.06 235.40M582.06 18.20L582.06 19.60M604.40 236.80L604.40 235.40M604.40 18.20L604.40 19.60M615.58 236.80L615.58 235.40M615.58 18.20L615.58 19.60M626.75 236.80L626.75 235.40M626.75 18.20L626.75 19.60M637.92 236.80L637.92 235.40M637.92 18.20L637.92 19.60M660.27 236.80L660.27 235.40M660.27 18.20L660.27 19.60M671.44 236.80L671.44 235.40M671.44 18.20L671.44 19.60M682.61 236.80L682.61 235.40M682.61 18.20L682.61 19.60M425.63 236.80L425.63 234.50M425.63 18.20L425.63 20.50M481.50 236.80L481.50 234.50M481.50 18.20L481.50 20.50M537.36 236.80L537.36 234.50M537.36 18.20L537.36 20.50M593.23 236.80L593.23 234.50M593.23 18.20L593.23 20.50M649.09 236.80L649.09 234.50M649.09 18.20L649.09 20.50M397.70 225.91L399.10 225.91M688.20 225.91L686.80 225.91M397.70 219.21L399.10 219.21M688.20 219.21L686.80 219.21M397.70 212.52L399.10 212.52M688.20 212.52L686.80 212.52M397.70 205.83L399.10 205.83M688.20 205.83L686.80 205.83M397.70 192.45L399.10 192.45M688.20 192.45L686.80 192.45M397.70 185.76L399.10 185.76M688.20 185.76L686.80 185.76M397.70 179.07L399.10 179.07M688.20 179.07L686.80 179.07M397.70 172.38L399.10 172.38M688.20 172.38L686.80 172.38M397.70 159.00L399.10 159.00M688.20 159.00L686.80 159.00M397.70 152.31L399.10 152.31M688.20 152.31L686.80 152.31M397.70 145.62L399.10 145.62M688.20 145.62L686.80 145.62M397.70 138.93L399.10 138.93M688.20 138.93L686.80 138.93M397.70 125.55L399.10 125.55M688.20 125.55L686.80 125.55M397.70 118.86L399.10 118.86M688.20 118.86L686.80 118.86M397.70 112.16L399.10 112.16M688.20 112.16L686.80 112.16M397.70 105.47L399.10 105.47M688.20 105.47L686.80 105.47M397.70 92.09L399.10 92.09M688.20 92.09L686.80 92.09M397.70 85.40L399.10 85.40M688.20 85.40L686.80 85.40M397.70 78.71L399.10 78.71M688.20 78.71L686.80 78.71M397.70 72.02L399.10 72.02M688.20 72.02L686.80 72.02M397.70 58.64L399.10 58.64M688.20 58.64L686.80 58.64M397.70 51.95L399.10 51.95M688.20 51.95L686.80 51.95M397.70 45.26L399.10 45.26M688.20 45.26L686.80 45.26M397.70 38.57L399.10 38.57M688.20 38.57L686.80 38.57M397.70 25.19L399.10 25.19M688.20 25.19L686.80 25.19M397.70 232.60L400.00 232.60M688.20 232.60L685.90 232.60M397.70 199.14L400.00 199.14M688.20 199.14L685.90 199.14M397.70 165.69L400.00 165.69M688.20 165.69L685.90 165.69M397.70 132.24L400.00 132.24M688.20 132.24L685.90 132.24M397.70 98.78L400.00 98.78M688.20 98.78L685.90 98.78M397.70 65.33L400.00 65.33M688.20 65.33L685.90 65.33M397.70 31.88L400.00 31.88M688.20 31.88L685.90 31.88" stroke="#000" stroke-width="0.75" fill="none"/>
<rect x="397.70" y="18.20" width="290.50" height="218.60" fill="none" stroke="#000" stroke-width="1.15"/>
<text transform="translate(425.93 249.40) scale(0.91 1)" text-anchor="middle" font-size="13.2">5</text>
<text transform="translate(481.80 249.40) scale(0.91 1)" text-anchor="middle" font-size="13.2">10</text>
<text transform="translate(537.66 249.40) scale(0.91 1)" text-anchor="middle" font-size="13.2">15</text>
<text transform="translate(593.53 249.40) scale(0.91 1)" text-anchor="middle" font-size="13.2">20</text>
<text transform="translate(649.39 249.40) scale(0.91 1)" text-anchor="middle" font-size="13.2">25</text>
<text transform="translate(396.00 236.85) scale(0.91 1)" text-anchor="end" font-size="13.2">0.0</text>
<text transform="translate(396.00 203.39) scale(0.91 1)" text-anchor="end" font-size="13.2">0.5</text>
<text transform="translate(396.00 169.94) scale(0.91 1)" text-anchor="end" font-size="13.2">1.0</text>
<text transform="translate(396.00 136.49) scale(0.91 1)" text-anchor="end" font-size="13.2">1.5</text>
<text transform="translate(396.00 103.03) scale(0.91 1)" text-anchor="end" font-size="13.2">2.0</text>
<text transform="translate(396.00 69.58) scale(0.91 1)" text-anchor="end" font-size="13.2">2.5</text>
<text transform="translate(396.00 36.13) scale(0.91 1)" text-anchor="end" font-size="13.2">3.0</text>
<text x="543.45" y="266.10" text-anchor="middle" font-size="12.8">r/M</text>
<path d="M60.26 507.40L60.26 506.00M60.26 288.50L60.26 289.90M67.91 507.40L67.91 506.00M67.91 288.50L67.91 289.90M83.22 507.40L83.22 506.00M83.22 288.50L83.22 289.90M90.88 507.40L90.88 506.00M90.88 288.50L90.88 289.90M98.53 507.40L98.53 506.00M98.53 288.50L98.53 289.90M106.19 507.40L106.19 506.00M106.19 288.50L106.19 289.90M121.50 507.40L121.50 506.00M121.50 288.50L121.50 289.90M129.15 507.40L129.15 506.00M129.15 288.50L129.15 289.90M136.81 507.40L136.81 506.00M136.81 288.50L136.81 289.90M144.46 507.40L144.46 506.00M144.46 288.50L144.46 289.90M159.77 507.40L159.77 506.00M159.77 288.50L159.77 289.90M167.43 507.40L167.43 506.00M167.43 288.50L167.43 289.90M175.08 507.40L175.08 506.00M175.08 288.50L175.08 289.90M182.74 507.40L182.74 506.00M182.74 288.50L182.74 289.90M198.05 507.40L198.05 506.00M198.05 288.50L198.05 289.90M205.71 507.40L205.71 506.00M205.71 288.50L205.71 289.90M213.36 507.40L213.36 506.00M213.36 288.50L213.36 289.90M221.02 507.40L221.02 506.00M221.02 288.50L221.02 289.90M236.33 507.40L236.33 506.00M236.33 288.50L236.33 289.90M243.98 507.40L243.98 506.00M243.98 288.50L243.98 289.90M251.64 507.40L251.64 506.00M251.64 288.50L251.64 289.90M259.29 507.40L259.29 506.00M259.29 288.50L259.29 289.90M274.60 507.40L274.60 506.00M274.60 288.50L274.60 289.90M282.26 507.40L282.26 506.00M282.26 288.50L282.26 289.90M289.91 507.40L289.91 506.00M289.91 288.50L289.91 289.90M297.57 507.40L297.57 506.00M297.57 288.50L297.57 289.90M312.88 507.40L312.88 506.00M312.88 288.50L312.88 289.90M320.53 507.40L320.53 506.00M320.53 288.50L320.53 289.90M328.19 507.40L328.19 506.00M328.19 288.50L328.19 289.90M335.84 507.40L335.84 506.00M335.84 288.50L335.84 289.90M75.57 507.40L75.57 505.10M75.57 288.50L75.57 290.80M113.84 507.40L113.84 505.10M113.84 288.50L113.84 290.80M152.12 507.40L152.12 505.10M152.12 288.50L152.12 290.80M190.39 507.40L190.39 505.10M190.39 288.50L190.39 290.80M228.67 507.40L228.67 505.10M228.67 288.50L228.67 290.80M266.95 507.40L266.95 505.10M266.95 288.50L266.95 290.80M305.22 507.40L305.22 505.10M305.22 288.50L305.22 290.80M343.50 507.40L343.50 505.10M343.50 288.50L343.50 290.80M52.60 496.24L54.00 496.24M343.50 496.24L342.10 496.24M52.60 485.29L54.00 485.29M343.50 485.29L342.10 485.29M52.60 474.35L54.00 474.35M343.50 474.35L342.10 474.35M52.60 463.40L54.00 463.40M343.50 463.40L342.10 463.40M52.60 441.51L54.00 441.51M343.50 441.51L342.10 441.51M52.60 430.57L54.00 430.57M343.50 430.57L342.10 430.57M52.60 419.62L54.00 419.62M343.50 419.62L342.10 419.62M52.60 408.68L54.00 408.68M343.50 408.68L342.10 408.68M52.60 386.79L54.00 386.79M343.50 386.79L342.10 386.79M52.60 375.84L54.00 375.84M343.50 375.84L342.10 375.84M52.60 364.90L54.00 364.90M343.50 364.90L342.10 364.90M52.60 353.95L54.00 353.95M343.50 353.95L342.10 353.95M52.60 332.06L54.00 332.06M343.50 332.06L342.10 332.06M52.60 321.12L54.00 321.12M343.50 321.12L342.10 321.12M52.60 310.17L54.00 310.17M343.50 310.17L342.10 310.17M52.60 299.23L54.00 299.23M343.50 299.23L342.10 299.23M52.60 507.18L54.90 507.18M343.50 507.18L341.20 507.18M52.60 452.46L54.90 452.46M343.50 452.46L341.20 452.46M52.60 397.73L54.90 397.73M343.50 397.73L341.20 397.73M52.60 343.01L54.90 343.01M343.50 343.01L341.20 343.01M52.60 288.28L54.90 288.28M343.50 288.28L341.20 288.28" stroke="#000" stroke-width="0.75" fill="none"/>
<rect x="52.60" y="288.50" width="290.90" height="218.90" fill="none" stroke="#000" stroke-width="1.15"/>
<text transform="translate(75.87 520.00) scale(0.91 1)" text-anchor="middle" font-size="13.2">5</text>
<text transform="translate(114.14 520.00) scale(0.91 1)" text-anchor="middle" font-size="13.2">10</text>
<text transform="translate(152.42 520.00) scale(0.91 1)" text-anchor="middle" font-size="13.2">15</text>
<text transform="translate(190.69 520.00) scale(0.91 1)" text-anchor="middle" font-size="13.2">20</text>
<text transform="translate(228.97 520.00) scale(0.91 1)" text-anchor="middle" font-size="13.2">25</text>
<text transform="translate(267.25 520.00) scale(0.91 1)" text-anchor="middle" font-size="13.2">30</text>
<text transform="translate(305.52 520.00) scale(0.91 1)" text-anchor="middle" font-size="13.2">35</text>
<text transform="translate(343.80 520.00) scale(0.91 1)" text-anchor="middle" font-size="13.2">40</text>
<text transform="translate(50.90 511.43) scale(0.91 1)" text-anchor="end" font-size="13.2">−0.15</text>
<text transform="translate(50.90 456.71) scale(0.91 1)" text-anchor="end" font-size="13.2">−0.10</text>
<text transform="translate(50.90 401.98) scale(0.91 1)" text-anchor="end" font-size="13.2">−0.05</text>
<text transform="translate(50.90 347.26) scale(0.91 1)" text-anchor="end" font-size="13.2">0.00</text>
<text transform="translate(50.90 292.53) scale(0.91 1)" text-anchor="end" font-size="13.2">0.05</text>
<text x="198.55" y="536.70" text-anchor="middle" font-size="12.8">r/M</text>
<path d="M403.29 507.40L403.29 506.00M403.29 288.50L403.29 289.90M413.26 507.40L413.26 506.00M413.26 288.50L413.26 289.90M423.24 507.40L423.24 506.00M423.24 288.50L423.24 289.90M443.19 507.40L443.19 506.00M443.19 288.50L443.19 289.90M453.17 507.40L453.17 506.00M453.17 288.50L453.17 289.90M463.14 507.40L463.14 506.00M463.14 288.50L463.14 289.90M473.12 507.40L473.12 506.00M473.12 288.50L473.12 289.90M493.07 507.40L493.07 506.00M493.07 288.50L493.07 289.90M503.05 507.40L503.05 506.00M503.05 288.50L503.05 289.90M513.02 507.40L513.02 506.00M513.02 288.50L513.02 289.90M523.00 507.40L523.00 506.00M523.00 288.50L523.00 289.90M542.95 507.40L542.95 506.00M542.95 288.50L542.95 289.90M552.93 507.40L552.93 506.00M552.93 288.50L552.93 289.90M562.90 507.40L562.90 506.00M562.90 288.50L562.90 289.90M572.88 507.40L572.88 506.00M572.88 288.50L572.88 289.90M592.83 507.40L592.83 506.00M592.83 288.50L592.83 289.90M602.81 507.40L602.81 506.00M602.81 288.50L602.81 289.90M612.78 507.40L612.78 506.00M612.78 288.50L612.78 289.90M622.76 507.40L622.76 506.00M622.76 288.50L622.76 289.90M642.71 507.40L642.71 506.00M642.71 288.50L642.71 289.90M652.69 507.40L652.69 506.00M652.69 288.50L652.69 289.90M662.66 507.40L662.66 506.00M662.66 288.50L662.66 289.90M672.64 507.40L672.64 506.00M672.64 288.50L672.64 289.90M433.21 507.40L433.21 505.10M433.21 288.50L433.21 290.80M483.09 507.40L483.09 505.10M483.09 288.50L483.09 290.80M532.97 507.40L532.97 505.10M532.97 288.50L532.97 290.80M582.85 507.40L582.85 505.10M582.85 288.50L582.85 290.80M632.73 507.40L632.73 505.10M632.73 288.50L632.73 290.80M682.61 507.40L682.61 505.10M682.61 288.50L682.61 290.80M397.70 496.49L399.10 496.49M688.20 496.49L686.80 496.49M397.70 489.79L399.10 489.79M688.20 489.79L686.80 489.79M397.70 483.09L399.10 483.09M688.20 483.09L686.80 483.09M397.70 476.39L399.10 476.39M688.20 476.39L686.80 476.39M397.70 462.99L399.10 462.99M688.20 462.99L686.80 462.99M397.70 456.29L399.10 456.29M688.20 456.29L686.80 456.29M397.70 449.59L399.10 449.59M688.20 449.59L686.80 449.59M397.70 442.89L399.10 442.89M688.20 442.89L686.80 442.89M397.70 429.49L399.10 429.49M688.20 429.49L686.80 429.49M397.70 422.79L399.10 422.79M688.20 422.79L686.80 422.79M397.70 416.09L399.10 416.09M688.20 416.09L686.80 416.09M397.70 409.39L399.10 409.39M688.20 409.39L686.80 409.39M397.70 395.99L399.10 395.99M688.20 395.99L686.80 395.99M397.70 389.29L399.10 389.29M688.20 389.29L686.80 389.29M397.70 382.59L399.10 382.59M688.20 382.59L686.80 382.59M397.70 375.89L399.10 375.89M688.20 375.89L686.80 375.89M397.70 362.49L399.10 362.49M688.20 362.49L686.80 362.49M397.70 355.79L399.10 355.79M688.20 355.79L686.80 355.79M397.70 349.09L399.10 349.09M688.20 349.09L686.80 349.09M397.70 342.39L399.10 342.39M688.20 342.39L686.80 342.39M397.70 329.00L399.10 329.00M688.20 329.00L686.80 329.00M397.70 322.30L399.10 322.30M688.20 322.30L686.80 322.30M397.70 315.60L399.10 315.60M688.20 315.60L686.80 315.60M397.70 308.90L399.10 308.90M688.20 308.90L686.80 308.90M397.70 295.50L399.10 295.50M688.20 295.50L686.80 295.50M397.70 503.19L400.00 503.19M688.20 503.19L685.90 503.19M397.70 469.69L400.00 469.69M688.20 469.69L685.90 469.69M397.70 436.19L400.00 436.19M688.20 436.19L685.90 436.19M397.70 402.69L400.00 402.69M688.20 402.69L685.90 402.69M397.70 369.19L400.00 369.19M688.20 369.19L685.90 369.19M397.70 335.70L400.00 335.70M688.20 335.70L685.90 335.70M397.70 302.20L400.00 302.20M688.20 302.20L685.90 302.20" stroke="#000" stroke-width="0.75" fill="none"/>
<rect x="397.70" y="288.50" width="290.50" height="218.90" fill="none" stroke="#000" stroke-width="1.15"/>
<text transform="translate(433.51 520.00) scale(0.91 1)" text-anchor="middle" font-size="13.2">5</text>
<text transform="translate(483.39 520.00) scale(0.91 1)" text-anchor="middle" font-size="13.2">10</text>
<text transform="translate(533.27 520.00) scale(0.91 1)" text-anchor="middle" font-size="13.2">15</text>
<text transform="translate(583.15 520.00) scale(0.91 1)" text-anchor="middle" font-size="13.2">20</text>
<text transform="translate(633.03 520.00) scale(0.91 1)" text-anchor="middle" font-size="13.2">25</text>
<text transform="translate(682.91 520.00) scale(0.91 1)" text-anchor="middle" font-size="13.2">30</text>
<text transform="translate(396.00 507.44) scale(0.91 1)" text-anchor="end" font-size="13.2">0.0</text>
<text transform="translate(396.00 473.94) scale(0.91 1)" text-anchor="end" font-size="13.2">0.5</text>
<text transform="translate(396.00 440.44) scale(0.91 1)" text-anchor="end" font-size="13.2">1.0</text>
<text transform="translate(396.00 406.94) scale(0.91 1)" text-anchor="end" font-size="13.2">1.5</text>
<text transform="translate(396.00 373.44) scale(0.91 1)" text-anchor="end" font-size="13.2">2.0</text>
<text transform="translate(396.00 339.95) scale(0.91 1)" text-anchor="end" font-size="13.2">2.5</text>
<text transform="translate(396.00 306.45) scale(0.91 1)" text-anchor="end" font-size="13.2">3.0</text>
<text x="543.45" y="536.70" text-anchor="middle" font-size="12.8">r/M</text>
<defs><linearGradient id="gg" x1="0" y1="0" x2="0" y2="1"><stop offset="0" stop-color="#00ff00" stop-opacity="0.9"/><stop offset="0.7" stop-color="#00ff00" stop-opacity="0.6"/><stop offset="1" stop-color="#00ff00" stop-opacity="0"/></linearGradient></defs><rect x="51.6" y="288.6" width="0.8" height="44" fill="url(#gg)"/>
<text x="0.60" y="130.80" font-size="13"><tspan font-style="italic">V</tspan><tspan font-size="8.8" dy="2">eff</tspan></text>
<text x="0.60" y="401.30" font-size="13"><tspan font-style="italic">V</tspan><tspan font-size="8.8" dy="2">eff</tspan></text>
<text x="368.5" y="132.0" font-size="12.3" font-style="italic">θ</text>
<text x="368.5" y="402.5" font-size="12.3" font-style="italic">θ</text>
<line x1="266.00" y1="190.10" x2="275.60" y2="190.10" stroke="#ff0000" stroke-width="1.1"/>
<text x="277.80" y="192.50" font-size="14.8" letter-spacing="0.13">E/<tspan font-style="italic">μ</tspan>=0.95</text>
<line x1="266.00" y1="205.40" x2="275.60" y2="205.40" stroke="#00ff00" stroke-width="1.1"/>
<text x="277.80" y="207.80" font-size="14.8" letter-spacing="0.13">E/<tspan font-style="italic">μ</tspan>=0.96</text>
<line x1="266.00" y1="220.70" x2="275.60" y2="220.70" stroke="#0000ff" stroke-width="1.1"/>
<text x="277.80" y="223.10" font-size="14.8" letter-spacing="0.13">E/<tspan font-style="italic">μ</tspan>=0.97</text>
<line x1="611.00" y1="190.10" x2="620.60" y2="190.10" stroke="#ff0000" stroke-width="1.1"/>
<text x="622.80" y="192.50" font-size="14.8" letter-spacing="0.13">E/<tspan font-style="italic">μ</tspan>=0.95</text>
<line x1="611.00" y1="205.40" x2="620.60" y2="205.40" stroke="#00ff00" stroke-width="1.1"/>
<text x="622.80" y="207.80" font-size="14.8" letter-spacing="0.13">E/<tspan font-style="italic">μ</tspan>=0.96</text>
<line x1="611.00" y1="220.70" x2="620.60" y2="220.70" stroke="#0000ff" stroke-width="1.1"/>
<text x="622.80" y="223.10" font-size="14.8" letter-spacing="0.13">E/<tspan font-style="italic">μ</tspan>=0.97</text>
<line x1="252.10" y1="460.70" x2="261.70" y2="460.70" stroke="#ff0000" stroke-width="1.1"/>
<text x="263.70" y="462.80" font-size="14.8" letter-spacing="0.13"><tspan font-style="italic">L</tspan><tspan font-style="italic" font-size="10.5" dy="2.6" dx="0.2">z</tspan><tspan dy="-2.6">/</tspan><tspan font-style="italic">μ</tspan>=3M</text>
<line x1="252.10" y1="476.00" x2="261.70" y2="476.00" stroke="#00ff00" stroke-width="1.1"/>
<text x="263.70" y="478.10" font-size="14.8" letter-spacing="0.13"><tspan font-style="italic">L</tspan><tspan font-style="italic" font-size="10.5" dy="2.6" dx="0.2">z</tspan><tspan dy="-2.6">/</tspan><tspan font-style="italic">μ</tspan>=3.25M</text>
<line x1="252.10" y1="491.30" x2="261.70" y2="491.30" stroke="#0000ff" stroke-width="1.1"/>
<text x="263.70" y="493.40" font-size="14.8" letter-spacing="0.13"><tspan font-style="italic">L</tspan><tspan font-style="italic" font-size="10.5" dy="2.6" dx="0.2">z</tspan><tspan dy="-2.6">/</tspan><tspan font-style="italic">μ</tspan>=3.5M</text>
<line x1="596.80" y1="460.70" x2="606.40" y2="460.70" stroke="#ff0000" stroke-width="1.1"/>
<text x="608.40" y="462.80" font-size="14.8" letter-spacing="0.13"><tspan font-style="italic">L</tspan><tspan font-style="italic" font-size="10.5" dy="2.6" dx="0.2">z</tspan><tspan dy="-2.6">/</tspan><tspan font-style="italic">μ</tspan>=3M</text>
<line x1="596.80" y1="476.00" x2="606.40" y2="476.00" stroke="#00ff00" stroke-width="1.1"/>
<text x="608.40" y="478.10" font-size="14.8" letter-spacing="0.13"><tspan font-style="italic">L</tspan><tspan font-style="italic" font-size="10.5" dy="2.6" dx="0.2">z</tspan><tspan dy="-2.6">/</tspan><tspan font-style="italic">μ</tspan>=3.25M</text>
<line x1="596.80" y1="491.30" x2="606.40" y2="491.30" stroke="#0000ff" stroke-width="1.1"/>
<text x="608.40" y="493.40" font-size="14.8" letter-spacing="0.13"><tspan font-style="italic">L</tspan><tspan font-style="italic" font-size="10.5" dy="2.6" dx="0.2">z</tspan><tspan dy="-2.6">/</tspan><tspan font-style="italic">μ</tspan>=3.5M</text>
</svg>
</body></html>
